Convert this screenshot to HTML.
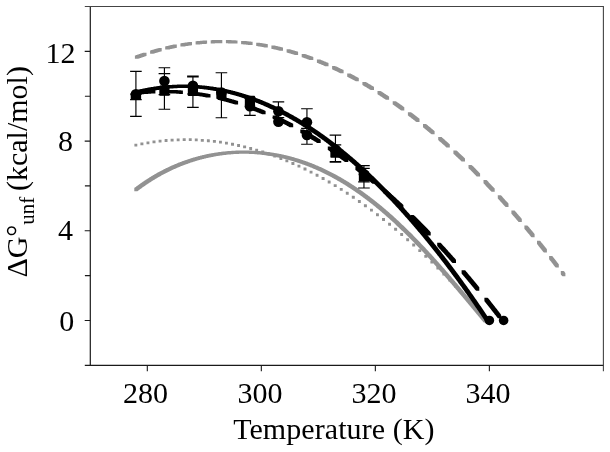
<!DOCTYPE html>
<html lang="en"><head><meta charset="utf-8"><title>ΔG unfolding vs temperature</title>
<style>html,body{margin:0;padding:0;background:#fff}body{width:610px;height:452px;overflow:hidden}</style></head>
<body>
<svg width="610" height="452" viewBox="0 0 610 452" style="display:block">
<rect width="610" height="452" fill="#fff"/>
<g stroke="#1a1a1a" stroke-width="1.2" fill="none">
<path d="M90.30,5.90 V366.00"/>
<path d="M84.80,365.40 H604.00"/>
</g>
<g stroke="#444" stroke-width="1.1" fill="none">
<path d="M84.80,6.50 H603.90"/>
<path d="M603.40,6.50 V371.20"/>
</g>
<path d="M84.70,51.40 H90.30 M84.70,141.08 H90.30 M84.70,230.76 H90.30 M84.70,320.44 H90.30 M84.90,96.24 H90.30 M84.90,185.92 H90.30 M84.90,275.60 H90.30 M147.31,365.40 V371.20 M261.33,365.40 V371.20 M375.35,365.40 V371.20 M489.37,365.40 V371.20" stroke="#1a1a1a" stroke-width="1.1" fill="none"/>
<path d="M134.3,188.0 134.8,187.6 135.3,187.2 135.8,186.9 136.3,186.5 136.8,186.1 137.3,185.8 137.8,185.4 138.3,185.0 138.8,184.7 139.3,184.3 139.8,183.9 140.3,183.6 140.8,183.2 141.3,182.9 141.8,182.5 142.3,182.2 142.8,181.8 143.3,181.5 143.8,181.2 144.3,180.8 144.8,180.5 145.3,180.2 145.8,179.8 146.3,179.5 146.8,179.2 147.3,178.9 147.8,178.5 148.3,178.2 148.8,177.9 149.3,177.6 149.8,177.3 150.3,177.0 150.8,176.7 151.3,176.3 151.8,176.0 152.3,175.7 152.8,175.4 153.3,175.1 153.8,174.9 154.3,174.6 154.8,174.3 155.3,174.0 155.8,173.7 156.3,173.4 156.8,173.1 157.3,172.8 157.8,172.6 158.3,172.3 158.8,172.0 159.3,171.7 159.8,171.5 160.3,171.2 160.8,170.9 161.3,170.7 161.8,170.4 162.3,170.2 162.8,169.9 163.3,169.6 163.8,169.4 164.3,169.1 164.8,168.9 165.3,168.6 165.8,168.4 166.3,168.1 166.8,167.9 167.3,167.7 167.8,167.4 168.3,167.2 168.8,167.0 169.3,166.7 169.8,166.5 170.3,166.3 170.8,166.0 171.3,165.8 171.8,165.6 172.3,165.4 172.8,165.1 173.3,164.9 173.8,164.7 174.3,164.5 174.8,164.3 175.3,164.1 175.8,163.9 176.3,163.7 176.8,163.5 177.3,163.2 177.8,163.0 178.3,162.8 178.8,162.6 179.3,162.5 179.8,162.3 180.3,162.1 180.8,161.9 181.3,161.7 181.8,161.5 182.3,161.3 182.8,161.1 183.3,160.9 183.8,160.8 184.3,160.6 184.8,160.4 185.3,160.2 185.8,160.1 186.3,159.9 186.8,159.7 187.3,159.5 187.8,159.4 188.3,159.2 188.8,159.0 189.3,158.9 189.8,158.7 190.3,158.6 190.8,158.4 191.3,158.3 191.8,158.1 192.3,157.9 192.8,157.8 193.2,157.6 193.7,157.5 194.2,157.4 194.7,157.2 195.2,157.1 195.7,156.9 196.2,156.8 196.7,156.7 197.2,156.5 197.7,156.4 198.2,156.2 198.7,156.1 199.2,156.0 199.7,155.9 200.2,155.7 200.7,155.6 201.2,155.5 201.7,155.4 202.2,155.2 202.7,155.1 203.2,155.0 203.7,154.9 204.2,154.8 204.7,154.7 205.2,154.6 205.7,154.4 206.2,154.3 206.7,154.2 207.2,154.1 207.7,154.0 208.2,153.9 208.7,153.8 209.2,153.7 209.7,153.6 210.2,153.5 210.7,153.4 211.2,153.3 211.7,153.3 212.2,153.2 212.7,153.1 213.2,153.0 213.7,152.9 214.2,152.8 214.7,152.7 215.2,152.7 215.7,152.6 216.2,152.5 216.7,152.4 217.2,152.4 217.7,152.3 218.2,152.2 218.7,152.1 219.2,152.1 219.7,152.0 220.2,151.9 220.7,151.9 221.2,151.8 221.7,151.8 222.2,151.7 222.7,151.6 223.2,151.6 223.7,151.5 224.2,151.5 224.7,151.4 225.2,151.4 225.7,151.3 226.2,151.3 226.7,151.2 227.2,151.2 227.7,151.1 228.2,151.1 228.7,151.1 229.2,151.0 229.7,151.0 230.2,150.9 230.7,150.9 231.2,150.9 231.7,150.8 232.2,150.8 232.7,150.8 233.2,150.8 233.7,150.7 234.2,150.7 234.7,150.7 235.2,150.7 235.7,150.6 236.2,150.6 236.7,150.6 237.2,150.6 237.7,150.6 238.2,150.6 238.7,150.6 239.2,150.6 239.7,150.5 240.2,150.5 240.7,150.5 241.2,150.5 241.7,150.5 242.2,150.5 242.7,150.5 243.2,150.5 243.7,150.5 244.2,150.5 244.7,150.5 245.2,150.5 245.7,150.5 246.2,150.5 246.7,150.5 247.2,150.5 247.7,150.5 248.2,150.5 248.7,150.6 249.2,150.6 249.7,150.6 250.2,150.6 250.7,150.6 251.2,150.6 251.7,150.6 252.2,150.7 252.7,150.7 253.2,150.7 253.7,150.7 254.2,150.7 254.7,150.8 255.2,150.8 255.7,150.8 256.2,150.9 256.7,150.9 257.2,150.9 257.7,151.0 258.2,151.0 258.7,151.0 259.2,151.1 259.7,151.1 260.2,151.1 260.7,151.2 261.2,151.2 261.7,151.3 262.2,151.3 262.7,151.4 263.2,151.4 263.7,151.5 264.2,151.5 264.7,151.6 265.2,151.6 265.7,151.7 266.2,151.8 266.7,151.8 267.2,151.9 267.7,151.9 268.2,152.0 268.7,152.1 269.2,152.1 269.7,152.2 270.2,152.3 270.7,152.4 271.2,152.4 271.7,152.5 272.2,152.6 272.7,152.7 273.2,152.7 273.7,152.8 274.2,152.9 274.7,153.0 275.2,153.1 275.7,153.2 276.2,153.3 276.7,153.3 277.2,153.4 277.7,153.5 278.2,153.6 278.7,153.7 279.2,153.8 279.7,153.9 280.2,154.0 280.7,154.1 281.2,154.2 281.7,154.3 282.2,154.4 282.7,154.5 283.2,154.6 283.7,154.8 284.2,154.9 284.7,155.0 285.2,155.1 285.7,155.2 286.2,155.3 286.7,155.5 287.2,155.6 287.7,155.7 288.2,155.8 288.7,155.9 289.2,156.1 289.7,156.2 290.2,156.3 290.7,156.5 291.2,156.6 291.7,156.7 292.2,156.9 292.7,157.0 293.2,157.1 293.7,157.3 294.2,157.4 294.6,157.6 295.1,157.7 295.6,157.9 296.1,158.0 296.6,158.2 297.1,158.3 297.6,158.5 298.1,158.6 298.6,158.8 299.1,158.9 299.6,159.1 300.1,159.2 300.6,159.4 301.1,159.6 301.6,159.7 302.1,159.9 302.6,160.1 303.1,160.2 303.6,160.4 304.1,160.6 304.6,160.8 305.1,160.9 305.6,161.1 306.1,161.3 306.6,161.5 307.1,161.6 307.6,161.8 308.1,162.0 308.6,162.2 309.1,162.4 309.6,162.6 310.1,162.8 310.6,163.0 311.1,163.1 311.6,163.3 312.1,163.5 312.6,163.7 313.1,163.9 313.6,164.1 314.1,164.3 314.6,164.5 315.1,164.8 315.6,165.0 316.1,165.2 316.6,165.4 317.1,165.6 317.6,165.8 318.1,166.0 318.6,166.2 319.1,166.5 319.6,166.7 320.1,166.9 320.6,167.1 321.1,167.3 321.6,167.6 322.1,167.8 322.6,168.0 323.1,168.3 323.6,168.5 324.1,168.7 324.6,169.0 325.1,169.2 325.6,169.4 326.1,169.7 326.6,169.9 327.1,170.2 327.6,170.4 328.1,170.7 328.6,170.9 329.1,171.2 329.6,171.4 330.1,171.7 330.6,171.9 331.1,172.2 331.6,172.4 332.1,172.7 332.6,172.9 333.1,173.2 333.6,173.5 334.1,173.7 334.6,174.0 335.1,174.3 335.6,174.5 336.1,174.8 336.6,175.1 337.1,175.4 337.6,175.6 338.1,175.9 338.6,176.2 339.1,176.5 339.6,176.8 340.1,177.0 340.6,177.3 341.1,177.6 341.6,177.9 342.1,178.2 342.6,178.5 343.1,178.8 343.6,179.1 344.1,179.4 344.6,179.7 345.1,180.0 345.6,180.3 346.1,180.6 346.6,180.9 347.1,181.2 347.6,181.5 348.1,181.8 348.6,182.1 349.1,182.4 349.6,182.8 350.1,183.1 350.6,183.4 351.1,183.7 351.6,184.0 352.1,184.4 352.6,184.7 353.1,185.0 353.6,185.3 354.1,185.7 354.6,186.0 355.1,186.3 355.6,186.7 356.1,187.0 356.6,187.3 357.1,187.7 357.6,188.0 358.1,188.3 358.6,188.7 359.1,189.0 359.6,189.4 360.1,189.7 360.6,190.1 361.1,190.4 361.6,190.8 362.1,191.1 362.6,191.5 363.1,191.8 363.6,192.2 364.1,192.6 364.6,192.9 365.1,193.3 365.6,193.7 366.1,194.0 366.6,194.4 367.1,194.8 367.6,195.1 368.1,195.5 368.6,195.9 369.1,196.2 369.6,196.6 370.1,197.0 370.6,197.4 371.1,197.8 371.6,198.2 372.1,198.5 372.6,198.9 373.1,199.3 373.6,199.7 374.1,200.1 374.6,200.5 375.1,200.9 375.6,201.3 376.1,201.7 376.6,202.1 377.1,202.5 377.6,202.9 378.1,203.3 378.6,203.7 379.1,204.1 379.6,204.5 380.1,204.9 380.6,205.3 381.1,205.7 381.6,206.1 382.1,206.6 382.6,207.0 383.1,207.4 383.6,207.8 384.1,208.2 384.6,208.7 385.1,209.1 385.6,209.5 386.1,209.9 386.6,210.4 387.1,210.8 387.6,211.2 388.1,211.7 388.6,212.1 389.1,212.5 389.6,213.0 390.1,213.4 390.6,213.9 391.1,214.3 391.6,214.7 392.1,215.2 392.6,215.6 393.1,216.1 393.6,216.5 394.1,217.0 394.6,217.4 395.1,217.9 395.6,218.3 396.0,218.8 396.5,219.3 397.0,219.7 397.5,220.2 398.0,220.6 398.5,221.1 399.0,221.6 399.5,222.0 400.0,222.5 400.5,223.0 401.0,223.4 401.5,223.9 402.0,224.4 402.5,224.9 403.0,225.3 403.5,225.8 404.0,226.3 404.5,226.8 405.0,227.3 405.5,227.7 406.0,228.2 406.5,228.7 407.0,229.2 407.5,229.7 408.0,230.2 408.5,230.7 409.0,231.2 409.5,231.7 410.0,232.2 410.5,232.6 411.0,233.1 411.5,233.6 412.0,234.1 412.5,234.6 413.0,235.1 413.5,235.7 414.0,236.2 414.5,236.7 415.0,237.2 415.5,237.7 416.0,238.2 416.5,238.7 417.0,239.2 417.5,239.7 418.0,240.2 418.5,240.8 419.0,241.3 419.5,241.8 420.0,242.3 420.5,242.8 421.0,243.4 421.5,243.9 422.0,244.4 422.5,244.9 423.0,245.5 423.5,246.0 424.0,246.5 424.5,247.1 425.0,247.6 425.5,248.1 426.0,248.7 426.5,249.2 427.0,249.7 427.5,250.3 428.0,250.8 428.5,251.3 429.0,251.9 429.5,252.4 430.0,253.0 430.5,253.5 431.0,254.1 431.5,254.6 432.0,255.1 432.5,255.7 433.0,256.2 433.5,256.8 434.0,257.3 434.5,257.9 435.0,258.4 435.5,259.0 436.0,259.6 436.5,260.1 437.0,260.7 437.5,261.2 438.0,261.8 438.5,262.3 439.0,262.9 439.5,263.5 440.0,264.0 440.5,264.6 441.0,265.2 441.5,265.7 442.0,266.3 442.5,266.9 443.0,267.4 443.5,268.0 444.0,268.6 444.5,269.1 445.0,269.7 445.5,270.3 446.0,270.8 446.5,271.4 447.0,272.0 447.5,272.6 448.0,273.1 448.5,273.7 449.0,274.3 449.5,274.9 450.0,275.5 450.5,276.0 451.0,276.6 451.5,277.2 452.0,277.8 452.5,278.4 453.0,278.9 453.5,279.5 454.0,280.1 454.5,280.7 455.0,281.3 455.5,281.9 456.0,282.4 456.5,283.0 457.0,283.6 457.5,284.2 458.0,284.8 458.5,285.4 459.0,286.0 459.5,286.6 460.0,287.2 460.5,287.7 461.0,288.3 461.5,288.9 462.0,289.5 462.5,290.1 463.0,290.7 463.5,291.3 464.0,291.9 464.5,292.5 465.0,293.1 465.5,293.7 466.0,294.3 466.5,294.9 467.0,295.5 467.5,296.1 468.0,296.7 468.5,297.3 469.0,297.9 469.5,298.5 470.0,299.1 470.5,299.7 471.0,300.3 471.5,300.9 472.0,301.5 472.5,302.0 473.0,302.6 473.5,303.2 474.0,303.8 474.5,304.4 475.0,305.0 475.5,305.6 476.0,306.2 476.5,306.8 477.0,307.4 477.5,308.0 478.0,308.6 478.5,309.2 479.0,309.8 479.5,310.5 480.0,311.1 480.5,311.7 481.0,312.3 481.5,312.9 482.0,313.5 482.5,314.1 483.0,314.7 483.5,315.3 484.0,315.9 484.5,316.4 485.0,317.0 485.5,317.6 486.0,318.2 486.5,318.8 487.0,319.4 487.0,322.6 486.5,322.6 486.0,322.6 485.5,322.6 485.0,322.6 484.5,322.6 484.0,322.6 483.5,322.3 483.0,321.7 482.5,321.1 482.0,320.5 481.5,319.9 481.0,319.3 480.5,318.7 480.0,318.1 479.5,317.5 479.0,316.9 478.5,316.3 478.0,315.7 477.5,315.1 477.0,314.5 476.5,313.9 476.0,313.3 475.5,312.7 475.0,312.1 474.5,311.5 474.0,310.9 473.5,310.3 473.0,309.7 472.5,309.1 472.0,308.5 471.5,307.9 471.0,307.3 470.5,306.7 470.0,306.1 469.5,305.5 469.0,304.9 468.5,304.3 468.0,303.7 467.5,303.1 467.0,302.5 466.5,301.9 466.0,301.3 465.5,300.7 465.0,300.1 464.5,299.5 464.0,298.9 463.5,298.3 463.0,297.7 462.5,297.1 462.0,296.5 461.5,295.9 461.0,295.3 460.5,294.7 460.0,294.2 459.5,293.6 459.0,293.0 458.5,292.4 458.0,291.8 457.5,291.2 457.0,290.6 456.5,290.0 456.0,289.4 455.5,288.8 455.0,288.2 454.5,287.6 454.0,287.1 453.5,286.5 453.0,285.9 452.5,285.3 452.0,284.7 451.5,284.1 451.0,283.5 450.5,283.0 450.0,282.4 449.5,281.8 449.0,281.2 448.5,280.6 448.0,280.0 447.5,279.5 447.0,278.9 446.5,278.3 446.0,277.7 445.5,277.2 445.0,276.6 444.5,276.0 444.0,275.4 443.5,274.8 443.0,274.3 442.5,273.7 442.0,273.1 441.5,272.6 441.0,272.0 440.5,271.4 440.0,270.9 439.5,270.3 439.0,269.7 438.5,269.1 438.0,268.6 437.5,268.0 437.0,267.5 436.5,266.9 436.0,266.3 435.5,265.8 435.0,265.2 434.5,264.7 434.0,264.1 433.5,263.5 433.0,263.0 432.5,262.4 432.0,261.9 431.5,261.3 431.0,260.8 430.5,260.2 430.0,259.7 429.5,259.1 429.0,258.6 428.5,258.0 428.0,257.5 427.5,256.9 427.0,256.4 426.5,255.8 426.0,255.3 425.5,254.8 425.0,254.2 424.5,253.7 424.0,253.1 423.5,252.6 423.0,252.1 422.5,251.5 422.0,251.0 421.5,250.5 421.0,249.9 420.5,249.4 420.0,248.9 419.5,248.4 419.0,247.8 418.5,247.3 418.0,246.8 417.5,246.3 417.0,245.7 416.5,245.2 416.0,244.7 415.5,244.2 415.0,243.7 414.5,243.1 414.0,242.6 413.5,242.1 413.0,241.6 412.5,241.1 412.0,240.6 411.5,240.1 411.0,239.6 410.5,239.1 410.0,238.6 409.5,238.1 409.0,237.5 408.5,237.0 408.0,236.5 407.5,236.0 407.0,235.6 406.5,235.1 406.0,234.6 405.5,234.1 405.0,233.6 404.5,233.1 404.0,232.6 403.5,232.1 403.0,231.6 402.5,231.1 402.0,230.7 401.5,230.2 401.0,229.7 400.5,229.2 400.0,228.7 399.5,228.3 399.0,227.8 398.5,227.3 398.0,226.8 397.5,226.4 397.0,225.9 396.5,225.4 396.0,225.0 395.6,224.5 395.1,224.0 394.6,223.6 394.1,223.1 393.6,222.6 393.1,222.2 392.6,221.7 392.1,221.3 391.6,220.8 391.1,220.4 390.6,219.9 390.1,219.5 389.6,219.0 389.1,218.6 388.6,218.1 388.1,217.7 387.6,217.2 387.1,216.8 386.6,216.4 386.1,215.9 385.6,215.5 385.1,215.0 384.6,214.6 384.1,214.2 383.6,213.7 383.1,213.3 382.6,212.9 382.1,212.5 381.6,212.0 381.1,211.6 380.6,211.2 380.1,210.8 379.6,210.3 379.1,209.9 378.6,209.5 378.1,209.1 377.6,208.7 377.1,208.3 376.6,207.9 376.1,207.5 375.6,207.0 375.1,206.6 374.6,206.2 374.1,205.8 373.6,205.4 373.1,205.0 372.6,204.6 372.1,204.2 371.6,203.8 371.1,203.5 370.6,203.1 370.1,202.7 369.6,202.3 369.1,201.9 368.6,201.5 368.1,201.1 367.6,200.7 367.1,200.4 366.6,200.0 366.1,199.6 365.6,199.2 365.1,198.9 364.6,198.5 364.1,198.1 363.6,197.7 363.1,197.4 362.6,197.0 362.1,196.6 361.6,196.3 361.1,195.9 360.6,195.5 360.1,195.2 359.6,194.8 359.1,194.5 358.6,194.1 358.1,193.8 357.6,193.4 357.1,193.1 356.6,192.7 356.1,192.4 355.6,192.0 355.1,191.7 354.6,191.3 354.1,191.0 353.6,190.7 353.1,190.3 352.6,190.0 352.1,189.7 351.6,189.3 351.1,189.0 350.6,188.7 350.1,188.3 349.6,188.0 349.1,187.7 348.6,187.4 348.1,187.0 347.6,186.7 347.1,186.4 346.6,186.1 346.1,185.8 345.6,185.5 345.1,185.1 344.6,184.8 344.1,184.5 343.6,184.2 343.1,183.9 342.6,183.6 342.1,183.3 341.6,183.0 341.1,182.7 340.6,182.4 340.1,182.1 339.6,181.8 339.1,181.5 338.6,181.2 338.1,180.9 337.6,180.7 337.1,180.4 336.6,180.1 336.1,179.8 335.6,179.5 335.1,179.2 334.6,179.0 334.1,178.7 333.6,178.4 333.1,178.1 332.6,177.9 332.1,177.6 331.6,177.3 331.1,177.0 330.6,176.8 330.1,176.5 329.6,176.3 329.1,176.0 328.6,175.7 328.1,175.5 327.6,175.2 327.1,175.0 326.6,174.7 326.1,174.5 325.6,174.2 325.1,174.0 324.6,173.7 324.1,173.5 323.6,173.2 323.1,173.0 322.6,172.7 322.1,172.5 321.6,172.3 321.1,172.0 320.6,171.8 320.1,171.6 319.6,171.3 319.1,171.1 318.6,170.9 318.1,170.6 317.6,170.4 317.1,170.2 316.6,170.0 316.1,169.7 315.6,169.5 315.1,169.3 314.6,169.1 314.1,168.9 313.6,168.7 313.1,168.5 312.6,168.2 312.1,168.0 311.6,167.8 311.1,167.6 310.6,167.4 310.1,167.2 309.6,167.0 309.1,166.8 308.6,166.6 308.1,166.4 307.6,166.2 307.1,166.0 306.6,165.8 306.1,165.7 305.6,165.5 305.1,165.3 304.6,165.1 304.1,164.9 303.6,164.7 303.1,164.6 302.6,164.4 302.1,164.2 301.6,164.0 301.1,163.8 300.6,163.7 300.1,163.5 299.6,163.3 299.1,163.2 298.6,163.0 298.1,162.8 297.6,162.7 297.1,162.5 296.6,162.3 296.1,162.2 295.6,162.0 295.1,161.9 294.6,161.7 294.2,161.6 293.7,161.4 293.2,161.3 292.7,161.1 292.2,161.0 291.7,160.8 291.2,160.7 290.7,160.5 290.2,160.4 289.7,160.3 289.2,160.1 288.7,160.0 288.2,159.8 287.7,159.7 287.2,159.6 286.7,159.5 286.2,159.3 285.7,159.2 285.2,159.1 284.7,158.9 284.2,158.8 283.7,158.7 283.2,158.6 282.7,158.5 282.2,158.3 281.7,158.2 281.2,158.1 280.7,158.0 280.2,157.9 279.7,157.8 279.2,157.7 278.7,157.6 278.2,157.5 277.7,157.4 277.2,157.3 276.7,157.2 276.2,157.1 275.7,157.0 275.2,156.9 274.7,156.8 274.2,156.7 273.7,156.6 273.2,156.5 272.7,156.4 272.2,156.3 271.7,156.2 271.2,156.1 270.7,156.1 270.2,156.0 269.7,155.9 269.2,155.8 268.7,155.7 268.2,155.7 267.7,155.6 267.2,155.5 266.7,155.4 266.2,155.4 265.7,155.3 265.2,155.2 264.7,155.2 264.2,155.1 263.7,155.0 263.2,155.0 262.7,154.9 262.2,154.9 261.7,154.8 261.2,154.8 260.7,154.7 260.2,154.6 259.7,154.6 259.2,154.5 258.7,154.5 258.2,154.5 257.7,154.4 257.2,154.4 256.7,154.3 256.2,154.3 255.7,154.2 255.2,154.2 254.7,154.2 254.2,154.1 253.7,154.1 253.2,154.1 252.7,154.0 252.2,154.0 251.7,154.0 251.2,154.0 250.7,153.9 250.2,153.9 249.7,153.9 249.2,153.9 248.7,153.8 248.2,153.8 247.7,153.8 247.2,153.8 246.7,153.8 246.2,153.8 245.7,153.8 245.2,153.7 244.7,153.7 244.2,153.7 243.7,153.7 243.2,153.7 242.7,153.7 242.2,153.8 241.7,153.8 241.2,153.8 240.7,153.8 240.2,153.8 239.7,153.8 239.2,153.8 238.7,153.9 238.2,153.9 237.7,153.9 237.2,153.9 236.7,153.9 236.2,154.0 235.7,154.0 235.2,154.0 234.7,154.1 234.2,154.1 233.7,154.1 233.2,154.2 232.7,154.2 232.2,154.2 231.7,154.3 231.2,154.3 230.7,154.4 230.2,154.4 229.7,154.4 229.2,154.5 228.7,154.5 228.2,154.6 227.7,154.6 227.2,154.7 226.7,154.7 226.2,154.8 225.7,154.9 225.2,154.9 224.7,155.0 224.2,155.0 223.7,155.1 223.2,155.2 222.7,155.2 222.2,155.3 221.7,155.4 221.2,155.4 220.7,155.5 220.2,155.6 219.7,155.7 219.2,155.7 218.7,155.8 218.2,155.9 217.7,156.0 217.2,156.1 216.7,156.1 216.2,156.2 215.7,156.3 215.2,156.4 214.7,156.5 214.2,156.6 213.7,156.7 213.2,156.8 212.7,156.9 212.2,157.0 211.7,157.1 211.2,157.2 210.7,157.3 210.2,157.4 209.7,157.5 209.2,157.6 208.7,157.7 208.2,157.8 207.7,157.9 207.2,158.0 206.7,158.1 206.2,158.3 205.7,158.4 205.2,158.5 204.7,158.6 204.2,158.7 203.7,158.9 203.2,159.0 202.7,159.1 202.2,159.2 201.7,159.4 201.2,159.5 200.7,159.6 200.2,159.8 199.7,159.9 199.2,160.0 198.7,160.2 198.2,160.3 197.7,160.5 197.2,160.6 196.7,160.8 196.2,160.9 195.7,161.1 195.2,161.2 194.7,161.4 194.2,161.5 193.7,161.7 193.2,161.8 192.8,162.0 192.3,162.2 191.8,162.3 191.3,162.5 190.8,162.6 190.3,162.8 189.8,163.0 189.3,163.2 188.8,163.3 188.3,163.5 187.8,163.7 187.3,163.9 186.8,164.0 186.3,164.2 185.8,164.4 185.3,164.6 184.8,164.8 184.3,165.0 183.8,165.2 183.3,165.3 182.8,165.5 182.3,165.7 181.8,165.9 181.3,166.1 180.8,166.3 180.3,166.5 179.8,166.7 179.3,166.9 178.8,167.1 178.3,167.4 177.8,167.6 177.3,167.8 176.8,168.0 176.3,168.2 175.8,168.4 175.3,168.7 174.8,168.9 174.3,169.1 173.8,169.3 173.3,169.6 172.8,169.8 172.3,170.0 171.8,170.3 171.3,170.5 170.8,170.7 170.3,171.0 169.8,171.2 169.3,171.4 168.8,171.7 168.3,171.9 167.8,172.2 167.3,172.4 166.8,172.7 166.3,172.9 165.8,173.2 165.3,173.5 164.8,173.7 164.3,174.0 163.8,174.3 163.3,174.5 162.8,174.8 162.3,175.1 161.8,175.3 161.3,175.6 160.8,175.9 160.3,176.2 159.8,176.4 159.3,176.7 158.8,177.0 158.3,177.3 157.8,177.6 157.3,177.9 156.8,178.2 156.3,178.5 155.8,178.8 155.3,179.1 154.8,179.4 154.3,179.7 153.8,180.0 153.3,180.3 152.8,180.6 152.3,180.9 151.8,181.2 151.3,181.5 150.8,181.9 150.3,182.2 149.8,182.5 149.3,182.8 148.8,183.2 148.3,183.5 147.8,183.8 147.3,184.2 146.8,184.5 146.3,184.8 145.8,185.2 145.3,185.5 144.8,185.9 144.3,186.2 143.8,186.6 143.3,186.9 142.8,187.3 142.3,187.6 141.8,188.0 141.3,188.4 140.8,188.7 140.3,189.1 139.8,189.5 139.3,189.8 138.8,190.2 138.3,190.6 137.8,191.0 137.3,191.2 136.8,191.2 136.3,191.2 135.8,191.2 135.3,191.2 134.8,191.2 134.3,191.2Z" fill="#929292"/>
<path d="M134.4,143.7 134.9,143.7 135.4,143.7 135.9,143.7 136.4,143.7 136.9,143.7 137.3,143.7 137.3,146.5 136.9,146.5 136.4,146.5 135.9,146.5 135.4,146.5 134.9,146.5 134.4,146.5Z M140.4,142.5 140.9,142.5 141.4,142.5 141.9,142.5 142.4,142.5 142.9,142.5 143.4,142.5 143.4,145.3 142.9,145.3 142.4,145.3 141.9,145.3 141.4,145.3 140.9,145.3 140.4,145.3Z M146.5,141.4 147.0,141.4 147.5,141.4 148.0,141.4 148.4,141.4 148.9,141.4 149.4,141.4 149.4,144.2 148.9,144.2 148.4,144.2 148.0,144.2 147.5,144.2 147.0,144.2 146.5,144.2Z M152.5,140.5 153.0,140.5 153.5,140.5 154.0,140.5 154.5,140.5 155.0,140.5 155.5,140.5 155.5,143.3 155.0,143.3 154.5,143.3 154.0,143.3 153.5,143.3 153.0,143.3 152.5,143.3Z M158.6,139.8 159.1,139.7 159.5,139.7 160.0,139.7 160.5,139.7 161.0,139.7 161.5,139.7 161.5,142.5 161.0,142.6 160.5,142.6 160.0,142.6 159.5,142.6 159.1,142.6 158.6,142.6Z M164.6,139.2 165.1,139.1 165.6,139.1 166.1,139.1 166.6,139.1 167.1,139.1 167.5,139.1 167.5,141.9 167.1,142.0 166.6,142.0 166.1,142.0 165.6,142.0 165.1,142.0 164.6,142.0Z M170.6,138.7 171.1,138.7 171.6,138.7 172.1,138.7 172.6,138.7 173.1,138.7 173.6,138.7 173.6,141.5 173.1,141.5 172.6,141.5 172.1,141.5 171.6,141.5 171.1,141.5 170.6,141.5Z M176.7,138.4 177.2,138.4 177.7,138.4 178.2,138.4 178.6,138.4 179.1,138.4 179.6,138.4 179.6,141.2 179.1,141.2 178.6,141.2 178.2,141.2 177.7,141.2 177.2,141.2 176.7,141.2Z M182.7,138.3 183.2,138.3 183.7,138.3 184.2,138.3 184.7,138.3 185.2,138.3 185.7,138.3 185.7,141.1 185.2,141.1 184.7,141.1 184.2,141.1 183.7,141.1 183.2,141.1 182.7,141.1Z M188.8,138.3 189.3,138.3 189.7,138.3 190.2,138.3 190.7,138.3 191.2,138.3 191.7,138.3 191.7,141.1 191.2,141.1 190.7,141.1 190.2,141.1 189.7,141.1 189.3,141.1 188.8,141.1Z M194.8,138.5 195.3,138.5 195.8,138.5 196.3,138.5 196.8,138.5 197.3,138.5 197.7,138.5 197.7,141.3 197.3,141.3 196.8,141.3 196.3,141.3 195.8,141.3 195.3,141.3 194.8,141.3Z M200.8,138.9 201.3,138.9 201.8,138.9 202.3,138.9 202.8,138.9 203.3,138.9 203.8,138.9 203.8,141.7 203.3,141.7 202.8,141.7 202.3,141.7 201.8,141.7 201.3,141.7 200.8,141.7Z M206.9,139.3 207.4,139.3 207.9,139.3 208.4,139.3 208.8,139.3 209.3,139.3 209.8,139.4 209.8,142.2 209.3,142.2 208.8,142.2 208.4,142.2 207.9,142.2 207.4,142.2 206.9,142.1Z M212.9,140.0 213.4,140.0 213.9,140.0 214.4,140.0 214.9,140.0 215.4,140.0 215.9,140.0 215.9,142.8 215.4,142.8 214.9,142.8 214.4,142.8 213.9,142.8 213.4,142.8 212.9,142.8Z M219.0,140.8 219.5,140.8 219.9,140.8 220.4,140.8 220.9,140.8 221.4,140.8 221.9,140.8 221.9,143.6 221.4,143.6 220.9,143.6 220.4,143.6 219.9,143.6 219.5,143.6 219.0,143.6Z M225.0,141.7 225.5,141.7 226.0,141.7 226.5,141.7 227.0,141.7 227.5,141.7 227.9,141.8 227.9,144.6 227.5,144.6 227.0,144.6 226.5,144.6 226.0,144.6 225.5,144.6 225.0,144.5Z M231.0,142.8 231.5,142.8 232.0,142.8 232.5,142.8 233.0,142.8 233.5,142.8 234.0,142.9 234.0,145.7 233.5,145.7 233.0,145.7 232.5,145.7 232.0,145.7 231.5,145.7 231.0,145.6Z M237.1,144.1 237.6,144.1 238.1,144.1 238.6,144.1 239.0,144.1 239.5,144.1 240.0,144.1 240.0,146.9 239.5,146.9 239.0,146.9 238.6,146.9 238.1,146.9 237.6,146.9 237.1,146.9Z M243.1,145.5 243.6,145.5 244.1,145.5 244.6,145.5 245.1,145.5 245.6,145.5 246.1,145.5 246.1,148.3 245.6,148.3 245.1,148.3 244.6,148.3 244.1,148.3 243.6,148.3 243.1,148.3Z M249.2,147.0 249.7,147.0 250.1,147.0 250.6,147.0 251.1,147.0 251.6,147.0 252.1,147.1 252.1,149.9 251.6,149.9 251.1,149.9 250.6,149.9 250.1,149.9 249.7,149.9 249.2,149.8Z M255.2,148.7 255.7,148.7 256.2,148.7 256.7,148.7 257.2,148.7 257.7,148.7 258.1,148.8 258.1,151.6 257.7,151.6 257.2,151.6 256.7,151.6 256.2,151.6 255.7,151.6 255.2,151.5Z M261.2,150.6 261.7,150.6 262.2,150.6 262.7,150.6 263.2,150.6 263.7,150.6 264.2,150.6 264.2,153.4 263.7,153.4 263.2,153.4 262.7,153.4 262.2,153.4 261.7,153.4 261.2,153.4Z M267.3,152.6 267.8,152.6 268.3,152.6 268.8,152.6 269.2,152.6 269.7,152.6 270.2,152.6 270.2,155.4 269.7,155.4 269.2,155.4 268.8,155.4 268.3,155.4 267.8,155.4 267.3,155.4Z M273.3,154.7 273.8,154.7 274.3,154.7 274.8,154.7 275.3,154.7 275.8,154.7 276.3,154.8 276.3,157.6 275.8,157.6 275.3,157.6 274.8,157.6 274.3,157.6 273.8,157.6 273.3,157.5Z M279.4,157.0 279.9,157.0 280.3,157.0 280.8,157.0 281.3,157.0 281.8,157.0 282.3,157.1 282.3,159.9 281.8,159.9 281.3,159.9 280.8,159.9 280.3,159.9 279.9,159.9 279.4,159.8Z M285.4,159.4 285.9,159.4 286.4,159.4 286.9,159.4 287.4,159.4 287.9,159.4 288.3,159.5 288.3,162.3 287.9,162.3 287.4,162.3 286.9,162.3 286.4,162.3 285.9,162.3 285.4,162.2Z M291.4,162.0 291.9,162.0 292.4,162.0 292.9,162.0 293.4,162.0 293.9,162.0 294.4,162.1 294.4,164.9 293.9,164.9 293.4,164.9 292.9,164.9 292.4,164.9 291.9,164.9 291.4,164.8Z M297.5,164.8 298.0,164.8 298.5,164.8 299.0,164.8 299.4,164.8 299.9,164.8 300.4,164.8 300.4,167.6 299.9,167.6 299.4,167.6 299.0,167.6 298.5,167.6 298.0,167.6 297.5,167.6Z M303.5,167.6 304.0,167.6 304.5,167.6 305.0,167.6 305.5,167.6 306.0,167.6 306.5,167.7 306.5,170.5 306.0,170.5 305.5,170.5 305.0,170.5 304.5,170.5 304.0,170.5 303.5,170.4Z M309.6,170.7 310.1,170.7 310.5,170.7 311.0,170.7 311.5,170.7 312.0,170.7 312.5,170.7 312.5,173.5 312.0,173.5 311.5,173.5 311.0,173.5 310.5,173.5 310.1,173.5 309.6,173.5Z M315.6,173.8 316.1,173.8 316.6,173.8 317.1,173.8 317.6,173.8 318.1,173.8 318.5,173.9 318.5,176.7 318.1,176.7 317.6,176.7 317.1,176.7 316.6,176.7 316.1,176.7 315.6,176.6Z M321.6,177.1 322.1,177.1 322.6,177.1 323.1,177.1 323.6,177.1 324.1,177.1 324.6,177.2 324.6,180.0 324.1,180.0 323.6,180.0 323.1,180.0 322.6,180.0 322.1,180.0 321.6,179.9Z M327.7,180.6 328.2,180.6 328.7,180.6 329.2,180.6 329.6,180.6 330.1,180.6 330.6,180.7 330.6,183.5 330.1,183.5 329.6,183.5 329.2,183.5 328.7,183.5 328.2,183.5 327.7,183.4Z M333.7,184.2 334.2,184.2 334.7,184.2 335.2,184.2 335.7,184.2 336.2,184.2 336.7,184.3 336.7,187.1 336.2,187.1 335.7,187.1 335.2,187.1 334.7,187.1 334.2,187.1 333.7,187.0Z M339.8,187.9 340.3,187.9 340.7,187.9 341.2,187.9 341.7,187.9 342.2,187.9 342.7,188.0 342.7,190.8 342.2,190.8 341.7,190.8 341.2,190.8 340.7,190.8 340.3,190.8 339.8,190.7Z M345.8,191.8 346.3,191.8 346.8,191.8 347.3,191.8 347.8,191.8 348.3,191.8 348.7,191.9 348.7,194.7 348.3,194.7 347.8,194.7 347.3,194.7 346.8,194.7 346.3,194.7 345.8,194.6Z M351.8,195.8 352.3,195.8 352.8,195.8 353.3,195.8 353.8,195.8 354.3,195.8 354.8,195.9 354.8,198.7 354.3,198.7 353.8,198.7 353.3,198.7 352.8,198.7 352.3,198.7 351.8,198.6Z M357.9,200.0 358.4,200.0 358.9,200.0 359.4,200.0 359.8,200.0 360.3,200.0 360.8,200.1 360.8,202.9 360.3,202.9 359.8,202.9 359.4,202.9 358.9,202.9 358.4,202.9 357.9,202.8Z M363.9,204.3 364.4,204.3 364.9,204.3 365.4,204.3 365.9,204.3 366.4,204.3 366.9,204.4 366.9,207.2 366.4,207.2 365.9,207.2 365.4,207.2 364.9,207.2 364.4,207.2 363.9,207.1Z M370.0,208.7 370.5,208.7 370.9,208.7 371.4,208.7 371.9,208.7 372.4,208.7 372.9,208.8 372.9,211.6 372.4,211.6 371.9,211.6 371.4,211.6 370.9,211.6 370.5,211.6 370.0,211.5Z M376.0,213.3 376.5,213.3 377.0,213.3 377.5,213.3 378.0,213.3 378.5,213.3 378.9,213.4 378.9,216.2 378.5,216.2 378.0,216.2 377.5,216.2 377.0,216.2 376.5,216.2 376.0,216.1Z M382.0,218.0 382.5,218.0 383.0,218.0 383.5,218.0 384.0,218.0 384.5,218.0 385.0,218.1 385.0,220.9 384.5,220.9 384.0,220.9 383.5,220.9 383.0,220.9 382.5,220.9 382.0,220.8Z M388.1,222.8 388.6,222.8 389.1,222.8 389.6,222.8 390.0,222.8 390.5,222.8 391.0,223.0 391.0,225.8 390.5,225.8 390.0,225.8 389.6,225.8 389.1,225.8 388.6,225.8 388.1,225.6Z M394.1,227.8 394.6,227.8 395.1,227.8 395.6,227.8 396.1,227.8 396.6,227.8 397.1,228.0 397.1,230.8 396.6,230.8 396.1,230.8 395.6,230.8 395.1,230.8 394.6,230.8 394.1,230.6Z M400.2,233.0 400.7,233.0 401.1,233.0 401.6,233.0 402.1,233.0 402.6,233.0 403.1,233.1 403.1,235.9 402.6,235.9 402.1,235.9 401.6,235.9 401.1,235.9 400.7,235.9 400.2,235.8Z M406.2,238.2 406.7,238.2 407.2,238.2 407.7,238.2 408.2,238.2 408.7,238.2 409.1,238.4 409.1,241.2 408.7,241.2 408.2,241.2 407.7,241.2 407.2,241.2 406.7,241.2 406.2,241.0Z M412.2,243.6 412.7,243.6 413.2,243.6 413.7,243.6 414.2,243.6 414.7,243.6 415.2,243.8 415.2,246.6 414.7,246.6 414.2,246.6 413.7,246.6 413.2,246.6 412.7,246.6 412.2,246.4Z M418.3,249.2 418.8,249.2 419.3,249.2 419.8,249.2 420.2,249.2 420.7,249.2 421.2,249.3 421.2,252.1 420.7,252.1 420.2,252.1 419.8,252.1 419.3,252.1 418.8,252.1 418.3,252.0Z M424.3,254.9 424.8,254.9 425.3,254.9 425.8,254.9 426.3,254.9 426.8,254.9 427.3,255.0 427.3,257.8 426.8,257.8 426.3,257.8 425.8,257.8 425.3,257.8 424.8,257.8 424.3,257.7Z M430.4,260.7 430.9,260.7 431.3,260.7 431.8,260.7 432.3,260.7 432.8,260.7 433.3,260.8 433.3,263.6 432.8,263.6 432.3,263.6 431.8,263.6 431.3,263.6 430.9,263.6 430.4,263.5Z M436.4,266.6 436.9,266.6 437.4,266.6 437.9,266.6 438.4,266.6 438.9,266.6 439.3,266.7 439.3,269.5 438.9,269.5 438.4,269.5 437.9,269.5 437.4,269.5 436.9,269.5 436.4,269.4Z M442.4,272.6 442.9,272.6 443.4,272.6 443.9,272.6 444.4,272.6 444.9,272.6 445.3,272.8 445.3,275.6 444.9,275.6 444.4,275.6 443.9,275.6 443.4,275.6 442.9,275.6 442.4,275.4Z M448.3,278.7 448.8,278.7 449.3,278.7 449.7,278.7 450.2,278.7 450.7,278.7 451.2,278.8 451.2,281.6 450.7,281.6 450.2,281.6 449.7,281.6 449.3,281.6 448.8,281.6 448.3,281.5Z M454.0,284.7 454.5,284.7 455.0,284.7 455.5,284.7 456.0,284.7 456.5,284.7 457.0,284.9 457.0,287.7 456.5,287.7 456.0,287.7 455.5,287.7 455.0,287.7 454.5,287.7 454.0,287.5Z M459.7,290.8 460.2,290.8 460.7,290.8 461.1,290.8 461.6,290.8 462.1,290.8 462.6,290.9 462.6,293.7 462.1,293.7 461.6,293.7 461.1,293.7 460.7,293.7 460.2,293.7 459.7,293.6Z M465.2,296.8 465.7,296.8 466.2,296.8 466.7,296.8 467.2,296.8 467.6,296.8 468.1,296.9 468.1,299.7 467.6,299.7 467.2,299.7 466.7,299.7 466.2,299.7 465.7,299.7 465.2,299.6Z M470.7,302.9 471.1,302.9 471.6,302.9 472.1,302.9 472.6,302.9 473.1,302.9 473.6,303.0 473.6,305.8 473.1,305.8 472.6,305.8 472.1,305.8 471.6,305.8 471.1,305.8 470.7,305.7Z M476.0,308.9 476.5,308.9 477.0,308.9 477.5,308.9 477.9,308.9 478.4,308.9 478.9,309.0 478.9,311.8 478.4,311.8 477.9,311.8 477.5,311.8 477.0,311.8 476.5,311.8 476.0,311.7Z M481.2,314.9 481.7,314.9 482.2,314.9 482.7,314.9 483.2,314.9 483.7,314.9 484.2,315.1 484.2,317.9 483.7,317.9 483.2,317.9 482.7,317.9 482.2,317.9 481.7,317.9 481.2,317.7Z" fill="#929292"/>
<path d="M134.9,55.6 135.4,55.4 135.9,55.3 136.3,55.1 136.8,54.9 137.3,54.7 137.8,54.6 138.3,54.4 138.8,54.2 139.2,54.1 139.7,53.9 140.2,53.7 140.7,53.5 141.2,53.4 141.7,53.2 142.1,53.1 142.6,52.9 143.1,52.7 143.6,52.7 144.1,52.7 144.6,52.7 145.0,52.7 145.5,52.7 146.0,52.7 146.5,52.7 146.5,55.9 146.0,56.0 145.5,56.2 145.0,56.4 144.6,56.5 144.1,56.7 143.6,56.9 143.1,57.0 142.6,57.2 142.1,57.4 141.7,57.5 141.2,57.7 140.7,57.9 140.2,58.0 139.7,58.2 139.2,58.4 138.8,58.6 138.3,58.8 137.8,58.8 137.3,58.8 136.8,58.8 136.3,58.8 135.9,58.8 135.4,58.8 134.9,58.8Z M150.1,50.5 150.6,50.4 151.0,50.2 151.5,50.1 152.0,49.9 152.5,49.8 153.0,49.7 153.5,49.5 153.9,49.4 154.4,49.2 154.9,49.1 155.4,49.0 155.9,48.8 156.4,48.7 156.8,48.6 157.3,48.4 157.8,48.3 158.3,48.2 158.8,48.1 159.2,48.1 159.7,48.1 160.2,48.1 160.7,48.1 161.2,48.1 161.7,48.1 161.7,51.3 161.2,51.5 160.7,51.6 160.2,51.7 159.7,51.8 159.2,52.0 158.8,52.1 158.3,52.3 157.8,52.4 157.3,52.5 156.8,52.7 156.4,52.8 155.9,52.9 155.4,53.1 154.9,53.2 154.4,53.4 153.9,53.5 153.5,53.7 153.0,53.7 152.5,53.7 152.0,53.7 151.5,53.7 151.0,53.7 150.6,53.7 150.1,53.7Z M165.2,46.4 165.7,46.3 166.2,46.2 166.7,46.1 167.2,46.0 167.7,45.9 168.1,45.8 168.6,45.7 169.1,45.5 169.6,45.4 170.1,45.3 170.5,45.2 171.0,45.1 171.5,45.0 172.0,44.9 172.5,44.8 173.0,44.7 173.4,44.6 173.9,44.6 174.4,44.6 174.9,44.6 175.4,44.6 175.9,44.6 176.3,44.6 176.8,44.6 176.8,47.8 176.3,47.9 175.9,48.0 175.4,48.1 174.9,48.2 174.4,48.3 173.9,48.4 173.4,48.5 173.0,48.6 172.5,48.7 172.0,48.8 171.5,48.9 171.0,49.0 170.5,49.1 170.1,49.3 169.6,49.4 169.1,49.5 168.6,49.6 168.1,49.6 167.7,49.6 167.2,49.6 166.7,49.6 166.2,49.6 165.7,49.6 165.2,49.6Z M180.4,43.4 180.9,43.3 181.4,43.2 181.8,43.1 182.3,43.0 182.8,43.0 183.3,42.9 183.8,42.8 184.3,42.7 184.7,42.7 185.2,42.6 185.7,42.5 186.2,42.4 186.7,42.4 187.2,42.3 187.6,42.2 188.1,42.2 188.6,42.1 189.1,42.1 189.6,42.1 190.1,42.1 190.5,42.1 191.0,42.1 191.5,42.1 192.0,42.1 192.0,45.3 191.5,45.3 191.0,45.4 190.5,45.5 190.1,45.5 189.6,45.6 189.1,45.7 188.6,45.8 188.1,45.8 187.6,45.9 187.2,46.0 186.7,46.1 186.2,46.1 185.7,46.2 185.2,46.3 184.7,46.4 184.3,46.4 183.8,46.5 183.3,46.6 182.8,46.6 182.3,46.6 181.8,46.6 181.4,46.6 180.9,46.6 180.4,46.6Z M195.6,41.3 196.0,41.2 196.5,41.2 197.0,41.1 197.5,41.1 198.0,41.0 198.5,41.0 198.9,40.9 199.4,40.9 199.9,40.9 200.4,40.8 200.9,40.8 201.4,40.7 201.8,40.7 202.3,40.7 202.8,40.6 203.3,40.6 203.8,40.6 204.2,40.6 204.7,40.6 205.2,40.6 205.7,40.6 206.2,40.6 206.7,40.6 207.1,40.6 207.1,43.8 206.7,43.8 206.2,43.8 205.7,43.9 205.2,43.9 204.7,43.9 204.2,44.0 203.8,44.0 203.3,44.0 202.8,44.1 202.3,44.1 201.8,44.2 201.4,44.2 200.9,44.3 200.4,44.3 199.9,44.4 199.4,44.4 198.9,44.5 198.5,44.5 198.0,44.5 197.5,44.5 197.0,44.5 196.5,44.5 196.0,44.5 195.6,44.5Z M210.7,40.2 211.2,40.2 211.7,40.2 212.2,40.1 212.7,40.1 213.2,40.1 213.6,40.1 214.1,40.1 214.6,40.1 215.1,40.1 215.6,40.0 216.0,40.0 216.5,40.0 217.0,40.0 217.5,40.0 218.0,40.0 218.5,40.0 218.9,40.0 219.4,40.0 219.9,40.0 220.4,40.0 220.9,40.0 221.4,40.0 221.8,40.0 222.3,40.0 222.3,43.2 221.8,43.2 221.4,43.2 220.9,43.2 220.4,43.2 219.9,43.2 219.4,43.2 218.9,43.2 218.5,43.3 218.0,43.3 217.5,43.3 217.0,43.3 216.5,43.3 216.0,43.3 215.6,43.3 215.1,43.3 214.6,43.4 214.1,43.4 213.6,43.4 213.2,43.4 212.7,43.4 212.2,43.4 211.7,43.4 211.2,43.4 210.7,43.4Z M225.9,40.1 226.4,40.1 226.9,40.1 227.3,40.1 227.8,40.1 228.3,40.1 228.8,40.1 229.3,40.1 229.8,40.1 230.2,40.1 230.7,40.1 231.2,40.1 231.7,40.2 232.2,40.2 232.7,40.2 233.1,40.2 233.6,40.2 234.1,40.3 234.6,40.3 235.1,40.3 235.6,40.3 236.0,40.4 236.5,40.4 237.0,40.4 237.5,40.4 237.5,43.6 237.0,43.6 236.5,43.6 236.0,43.6 235.6,43.6 235.1,43.6 234.6,43.6 234.1,43.6 233.6,43.6 233.1,43.6 232.7,43.5 232.2,43.5 231.7,43.5 231.2,43.5 230.7,43.5 230.2,43.4 229.8,43.4 229.3,43.4 228.8,43.4 228.3,43.4 227.8,43.3 227.3,43.3 226.9,43.3 226.4,43.3 225.9,43.3Z M241.1,40.9 241.5,40.9 242.0,40.9 242.5,40.9 243.0,40.9 243.5,40.9 244.0,40.9 244.4,41.0 244.9,41.0 245.4,41.1 245.9,41.1 246.4,41.1 246.9,41.2 247.3,41.2 247.8,41.3 248.3,41.3 248.8,41.4 249.3,41.4 249.7,41.5 250.2,41.6 250.7,41.6 251.2,41.7 251.7,41.7 252.2,41.8 252.6,41.8 252.6,45.0 252.2,45.0 251.7,45.0 251.2,45.0 250.7,45.0 250.2,45.0 249.7,45.0 249.3,45.0 248.8,45.0 248.3,44.9 247.8,44.8 247.3,44.8 246.9,44.7 246.4,44.7 245.9,44.6 245.4,44.6 244.9,44.5 244.4,44.5 244.0,44.4 243.5,44.4 243.0,44.3 242.5,44.3 242.0,44.2 241.5,44.2 241.1,44.1Z M256.2,42.8 256.7,42.8 257.2,42.8 257.7,42.8 258.2,42.8 258.6,42.8 259.1,42.8 259.6,42.8 260.1,42.9 260.6,43.0 261.0,43.0 261.5,43.1 262.0,43.2 262.5,43.3 263.0,43.3 263.5,43.4 263.9,43.5 264.4,43.6 264.9,43.7 265.4,43.8 265.9,43.8 266.4,43.9 266.8,44.0 267.3,44.1 267.8,44.2 267.8,47.4 267.3,47.4 266.8,47.4 266.4,47.4 265.9,47.4 265.4,47.4 264.9,47.4 264.4,47.4 263.9,47.3 263.5,47.2 263.0,47.1 262.5,47.0 262.0,46.9 261.5,46.8 261.0,46.8 260.6,46.7 260.1,46.6 259.6,46.5 259.1,46.4 258.6,46.4 258.2,46.3 257.7,46.2 257.2,46.1 256.7,46.0 256.2,46.0Z M271.4,45.6 271.9,45.6 272.4,45.6 272.8,45.6 273.3,45.6 273.8,45.6 274.3,45.6 274.8,45.6 275.3,45.7 275.7,45.8 276.2,45.9 276.7,46.0 277.2,46.1 277.7,46.2 278.2,46.4 278.6,46.5 279.1,46.6 279.6,46.7 280.1,46.8 280.6,46.9 281.1,47.0 281.5,47.2 282.0,47.3 282.5,47.4 283.0,47.5 283.0,50.7 282.5,50.7 282.0,50.7 281.5,50.7 281.1,50.7 280.6,50.7 280.1,50.7 279.6,50.7 279.1,50.5 278.6,50.4 278.2,50.3 277.7,50.2 277.2,50.1 276.7,50.0 276.2,49.8 275.7,49.7 275.3,49.6 274.8,49.5 274.3,49.4 273.8,49.3 273.3,49.2 272.8,49.1 272.4,49.0 271.9,48.9 271.4,48.8Z M286.6,49.3 287.0,49.3 287.5,49.3 288.0,49.3 288.5,49.3 289.0,49.3 289.5,49.3 289.9,49.3 290.4,49.5 290.9,49.6 291.4,49.7 291.9,49.9 292.4,50.0 292.8,50.2 293.3,50.3 293.8,50.4 294.3,50.6 294.8,50.7 295.2,50.9 295.7,51.0 296.2,51.2 296.7,51.3 297.2,51.5 297.7,51.6 298.1,51.8 298.1,55.0 297.7,55.0 297.2,55.0 296.7,55.0 296.2,55.0 295.7,55.0 295.2,55.0 294.8,54.9 294.3,54.8 293.8,54.6 293.3,54.5 292.8,54.3 292.4,54.2 291.9,54.0 291.4,53.9 290.9,53.7 290.4,53.6 289.9,53.5 289.5,53.3 289.0,53.2 288.5,53.0 288.0,52.9 287.5,52.8 287.0,52.6 286.6,52.5Z M301.7,54.0 302.2,54.0 302.7,54.0 303.2,54.0 303.7,54.0 304.1,54.0 304.6,54.0 305.1,54.0 305.6,54.2 306.1,54.3 306.5,54.5 307.0,54.7 307.5,54.9 308.0,55.0 308.5,55.2 309.0,55.4 309.4,55.5 309.9,55.7 310.4,55.9 310.9,56.1 311.4,56.2 311.9,56.4 312.3,56.6 312.8,56.8 313.3,56.9 313.3,60.1 312.8,60.1 312.3,60.1 311.9,60.1 311.4,60.1 310.9,60.1 310.4,60.1 309.9,60.1 309.4,59.9 309.0,59.7 308.5,59.5 308.0,59.4 307.5,59.2 307.0,59.0 306.5,58.8 306.1,58.7 305.6,58.5 305.1,58.3 304.6,58.2 304.1,58.0 303.7,57.8 303.2,57.7 302.7,57.5 302.2,57.3 301.7,57.2Z M316.9,59.6 317.4,59.6 317.8,59.6 318.3,59.6 318.8,59.6 319.3,59.6 319.8,59.6 320.3,59.6 320.7,59.8 321.2,60.0 321.7,60.2 322.2,60.4 322.7,60.6 323.2,60.8 323.6,61.0 324.1,61.2 324.6,61.4 325.1,61.6 325.6,61.8 326.0,62.0 326.5,62.2 327.0,62.4 327.5,62.6 328.0,62.8 328.5,63.0 328.5,66.2 328.0,66.2 327.5,66.2 327.0,66.2 326.5,66.2 326.0,66.2 325.6,66.2 325.1,66.2 324.6,66.0 324.1,65.8 323.6,65.5 323.2,65.3 322.7,65.1 322.2,64.9 321.7,64.7 321.2,64.5 320.7,64.3 320.3,64.1 319.8,63.9 319.3,63.7 318.8,63.5 318.3,63.3 317.8,63.1 317.4,62.9 316.9,62.8Z M332.1,66.1 332.5,66.1 333.0,66.1 333.5,66.1 334.0,66.1 334.5,66.1 335.0,66.1 335.4,66.2 335.9,66.4 336.4,66.6 336.9,66.8 337.4,67.1 337.9,67.3 338.3,67.5 338.8,67.7 339.3,68.0 339.8,68.2 340.3,68.4 340.7,68.7 341.2,68.9 341.7,69.1 342.2,69.4 342.7,69.6 343.2,69.8 343.6,70.1 343.6,73.3 343.2,73.3 342.7,73.3 342.2,73.3 341.7,73.3 341.2,73.3 340.7,73.3 340.3,73.2 339.8,73.0 339.3,72.7 338.8,72.5 338.3,72.2 337.9,72.0 337.4,71.8 336.9,71.6 336.4,71.3 335.9,71.1 335.4,70.9 335.0,70.6 334.5,70.4 334.0,70.2 333.5,70.0 333.0,69.7 332.5,69.5 332.1,69.3Z M347.2,73.5 347.7,73.5 348.2,73.5 348.7,73.5 349.2,73.5 349.6,73.5 350.1,73.5 350.6,73.6 351.1,73.9 351.6,74.1 352.0,74.4 352.5,74.6 353.0,74.9 353.5,75.1 354.0,75.4 354.5,75.6 354.9,75.9 355.4,76.2 355.9,76.4 356.4,76.7 356.9,77.0 357.4,77.2 357.8,77.5 358.3,77.7 358.8,78.0 358.8,81.2 358.3,81.2 357.8,81.2 357.4,81.2 356.9,81.2 356.4,81.2 355.9,81.2 355.4,81.1 354.9,80.8 354.5,80.6 354.0,80.3 353.5,80.1 353.0,79.8 352.5,79.5 352.0,79.3 351.6,79.0 351.1,78.8 350.6,78.5 350.1,78.2 349.6,78.0 349.2,77.7 348.7,77.5 348.2,77.2 347.7,77.0 347.2,76.7Z M362.4,81.9 362.9,81.9 363.3,81.9 363.8,81.9 364.3,81.9 364.8,81.9 365.3,81.9 365.8,82.0 366.2,82.2 366.7,82.5 367.2,82.8 367.7,83.1 368.2,83.4 368.7,83.7 369.1,83.9 369.6,84.2 370.1,84.5 370.6,84.8 371.1,85.1 371.5,85.4 372.0,85.7 372.5,86.0 373.0,86.3 373.5,86.6 374.0,86.9 374.0,90.1 373.5,90.1 373.0,90.1 372.5,90.1 372.0,90.1 371.5,90.1 371.1,90.1 370.6,89.9 370.1,89.6 369.6,89.4 369.1,89.1 368.7,88.8 368.2,88.5 367.7,88.2 367.2,87.9 366.7,87.6 366.2,87.3 365.8,87.0 365.3,86.7 364.8,86.5 364.3,86.2 363.8,85.9 363.3,85.6 362.9,85.3 362.4,85.1Z M377.5,91.1 378.0,91.1 378.5,91.1 379.0,91.1 379.5,91.1 380.0,91.1 380.4,91.1 380.9,91.2 381.4,91.5 381.9,91.8 382.4,92.1 382.8,92.4 383.3,92.8 383.8,93.1 384.3,93.4 384.8,93.7 385.3,94.0 385.7,94.3 386.2,94.7 386.7,95.0 387.2,95.3 387.7,95.6 388.2,95.9 388.6,96.3 389.1,96.6 389.1,99.8 388.6,99.8 388.2,99.8 387.7,99.8 387.2,99.8 386.7,99.8 386.2,99.8 385.7,99.7 385.3,99.3 384.8,99.0 384.3,98.7 383.8,98.4 383.3,98.1 382.8,97.7 382.4,97.4 381.9,97.1 381.4,96.8 380.9,96.5 380.4,96.2 380.0,95.8 379.5,95.5 379.0,95.2 378.5,94.9 378.0,94.6 377.5,94.3Z M392.7,101.2 393.2,101.2 393.7,101.2 394.2,101.2 394.7,101.2 395.1,101.2 395.6,101.2 396.1,101.4 396.6,101.7 397.1,102.0 397.5,102.4 398.0,102.7 398.5,103.1 399.0,103.4 399.5,103.7 400.0,104.1 400.4,104.4 400.9,104.8 401.4,105.1 401.9,105.5 402.4,105.8 402.9,106.2 403.3,106.5 403.8,106.9 404.3,107.2 404.3,110.4 403.8,110.4 403.3,110.4 402.9,110.4 402.4,110.4 401.9,110.4 401.4,110.4 400.9,110.3 400.4,109.9 400.0,109.6 399.5,109.2 399.0,108.9 398.5,108.5 398.0,108.2 397.5,107.8 397.1,107.5 396.6,107.2 396.1,106.8 395.6,106.5 395.1,106.1 394.7,105.8 394.2,105.4 393.7,105.1 393.2,104.8 392.7,104.4Z M407.9,112.2 408.4,112.2 408.8,112.2 409.3,112.2 409.8,112.2 410.3,112.2 410.8,112.2 411.3,112.4 411.7,112.7 412.2,113.1 412.7,113.5 413.2,113.8 413.7,114.2 414.2,114.6 414.6,115.0 415.1,115.3 415.6,115.7 416.1,116.1 416.6,116.4 417.0,116.8 417.5,117.2 418.0,117.6 418.5,118.0 419.0,118.3 419.5,118.7 419.5,121.9 419.0,121.9 418.5,121.9 418.0,121.9 417.5,121.9 417.0,121.9 416.6,121.9 416.1,121.8 415.6,121.4 415.1,121.0 414.6,120.6 414.2,120.3 413.7,119.9 413.2,119.5 412.7,119.1 412.2,118.8 411.7,118.4 411.3,118.0 410.8,117.6 410.3,117.3 409.8,116.9 409.3,116.5 408.8,116.2 408.4,115.8 407.9,115.4Z M423.0,124.1 423.5,124.1 424.0,124.1 424.5,124.1 425.0,124.1 425.5,124.1 425.9,124.1 426.4,124.3 426.9,124.7 427.4,125.1 427.9,125.5 428.3,125.9 428.8,126.3 429.3,126.7 429.8,127.0 430.3,127.4 430.8,127.8 431.2,128.2 431.7,128.7 432.2,129.1 432.7,129.5 433.2,129.9 433.7,130.3 434.1,130.7 434.6,131.1 434.6,134.3 434.1,134.3 433.7,134.3 433.2,134.3 432.7,134.3 432.2,134.3 431.7,134.3 431.2,134.1 430.8,133.7 430.3,133.3 429.8,132.9 429.3,132.5 428.8,132.1 428.3,131.7 427.9,131.3 427.4,130.9 426.9,130.5 426.4,130.1 425.9,129.7 425.5,129.3 425.0,128.9 424.5,128.5 424.0,128.1 423.5,127.7 423.0,127.3Z M438.2,136.9 438.7,136.9 439.2,136.9 439.6,136.9 440.1,136.9 440.6,136.9 441.1,136.9 441.6,137.0 442.1,137.5 442.5,137.9 443.0,138.3 443.5,138.7 444.0,139.2 444.5,139.6 445.0,140.0 445.4,140.4 445.9,140.9 446.4,141.3 446.9,141.7 447.4,142.2 447.9,142.6 448.3,143.0 448.8,143.4 449.3,143.9 449.8,144.3 449.8,147.5 449.3,147.5 448.8,147.5 448.3,147.5 447.9,147.5 447.4,147.5 446.9,147.5 446.4,147.4 445.9,146.9 445.4,146.5 445.0,146.1 444.5,145.6 444.0,145.2 443.5,144.8 443.0,144.3 442.5,143.9 442.1,143.5 441.6,143.1 441.1,142.6 440.6,142.2 440.1,141.8 439.6,141.4 439.2,140.9 438.7,140.5 438.2,140.1Z M453.4,150.5 453.9,150.5 454.3,150.5 454.8,150.5 455.3,150.5 455.8,150.5 456.3,150.5 456.8,150.7 457.2,151.1 457.7,151.6 458.2,152.0 458.7,152.5 459.2,152.9 459.7,153.4 460.1,153.9 460.6,154.3 461.1,154.8 461.6,155.2 462.1,155.7 462.5,156.1 463.0,156.6 463.5,157.0 464.0,157.5 464.5,158.0 465.0,158.4 465.0,161.6 464.5,161.6 464.0,161.6 463.5,161.6 463.0,161.6 462.5,161.6 462.1,161.6 461.6,161.5 461.1,161.0 460.6,160.5 460.1,160.1 459.7,159.6 459.2,159.2 458.7,158.7 458.2,158.2 457.7,157.8 457.2,157.3 456.8,156.9 456.3,156.4 455.8,156.0 455.3,155.5 454.8,155.1 454.3,154.6 453.9,154.2 453.4,153.7Z M468.5,165.0 469.0,165.0 469.5,165.0 470.0,165.0 470.5,165.0 470.9,165.0 471.4,165.0 471.9,165.2 472.4,165.7 472.9,166.1 473.4,166.6 473.8,167.1 474.3,167.6 474.8,168.0 475.3,168.5 475.8,169.0 476.2,169.5 476.7,170.0 477.2,170.4 477.7,170.9 478.2,171.4 478.7,171.9 479.1,172.4 479.6,172.9 480.1,173.4 480.1,176.6 479.6,176.6 479.1,176.6 478.7,176.6 478.2,176.6 477.7,176.6 477.2,176.6 476.7,176.4 476.2,175.9 475.8,175.4 475.3,174.9 474.8,174.4 474.3,174.0 473.8,173.5 473.4,173.0 472.9,172.5 472.4,172.0 471.9,171.5 471.4,171.1 470.9,170.6 470.5,170.1 470.0,169.6 469.5,169.2 469.0,168.7 468.5,168.2Z M483.5,180.1 484.0,180.1 484.5,180.1 485.0,180.1 485.4,180.1 485.9,180.1 486.4,180.1 486.9,180.3 487.4,180.8 487.9,181.3 488.4,181.8 488.8,182.4 489.3,182.9 489.8,183.4 490.3,183.9 490.8,184.4 491.3,184.9 491.7,185.4 492.2,185.9 492.7,186.4 493.2,187.0 493.7,187.5 494.2,188.0 494.7,188.5 494.7,191.7 494.2,191.7 493.7,191.7 493.2,191.7 492.7,191.7 492.2,191.7 491.7,191.7 491.3,191.5 490.8,191.0 490.3,190.5 489.8,189.9 489.3,189.4 488.8,188.9 488.4,188.4 487.9,187.9 487.4,187.4 486.9,186.9 486.4,186.4 485.9,185.9 485.4,185.3 485.0,184.8 484.5,184.3 484.0,183.8 483.5,183.3Z M497.8,195.3 498.3,195.3 498.7,195.3 499.2,195.3 499.7,195.3 500.2,195.3 500.7,195.3 501.2,195.6 501.7,196.1 502.2,196.6 502.7,197.2 503.2,197.7 503.6,198.2 504.1,198.8 504.6,199.3 505.1,199.9 505.6,200.4 506.1,200.9 506.6,201.5 507.1,202.0 507.6,202.6 508.1,203.1 508.5,203.7 508.5,206.9 508.1,206.9 507.6,206.9 507.1,206.9 506.6,206.9 506.1,206.9 505.6,206.9 505.1,206.6 504.6,206.1 504.1,205.5 503.6,205.0 503.2,204.4 502.7,203.9 502.2,203.3 501.7,202.8 501.2,202.3 500.7,201.7 500.2,201.2 499.7,200.6 499.2,200.1 498.7,199.6 498.3,199.0 497.8,198.5Z M511.4,210.5 511.9,210.5 512.4,210.5 512.9,210.5 513.4,210.5 513.9,210.5 514.4,210.5 514.9,210.8 515.4,211.4 515.9,211.9 516.4,212.5 516.8,213.1 517.3,213.7 517.8,214.2 518.3,214.8 518.8,215.4 519.3,216.0 519.8,216.5 520.3,217.1 520.8,217.7 521.3,218.3 521.8,218.9 521.8,222.1 521.3,222.1 520.8,222.1 520.3,222.1 519.8,222.1 519.3,222.1 518.8,222.1 518.3,221.7 517.8,221.1 517.3,220.5 516.8,220.0 516.4,219.4 515.9,218.8 515.4,218.2 514.9,217.7 514.4,217.1 513.9,216.5 513.4,215.9 512.9,215.4 512.4,214.8 511.9,214.2 511.4,213.7Z M524.4,225.6 524.9,225.6 525.4,225.6 525.9,225.6 526.3,225.6 526.8,225.6 527.3,225.6 527.8,225.9 528.3,226.4 528.8,227.0 529.3,227.6 529.7,228.2 530.2,228.8 530.7,229.3 531.2,229.9 531.7,230.5 532.2,231.1 532.7,231.7 533.1,232.3 533.6,232.8 534.1,233.4 534.6,234.0 534.6,237.2 534.1,237.2 533.6,237.2 533.1,237.2 532.7,237.2 532.2,237.2 531.7,237.2 531.2,237.0 530.7,236.4 530.2,235.8 529.7,235.2 529.3,234.6 528.8,234.0 528.3,233.5 527.8,232.9 527.3,232.3 526.8,231.7 526.3,231.1 525.9,230.6 525.4,230.0 524.9,229.4 524.4,228.8Z M537.0,240.8 537.5,240.8 538.0,240.8 538.4,240.8 538.9,240.8 539.4,240.8 539.9,240.8 540.4,241.1 540.9,241.8 541.4,242.4 541.9,243.0 542.4,243.6 542.9,244.2 543.4,244.8 543.9,245.4 544.4,246.1 544.9,246.7 545.4,247.3 545.9,247.9 546.4,248.5 546.9,249.2 546.9,252.4 546.4,252.4 545.9,252.4 545.4,252.4 544.9,252.4 544.4,252.4 543.9,252.4 543.4,252.0 542.9,251.4 542.4,250.8 541.9,250.2 541.4,249.5 540.9,248.9 540.4,248.3 539.9,247.7 539.4,247.1 538.9,246.5 538.4,245.8 538.0,245.2 537.5,244.6 537.0,244.0Z M549.1,256.0 549.5,256.0 550.0,256.0 550.5,256.0 551.0,256.0 551.5,256.0 552.0,256.0 552.5,256.2 552.9,256.8 553.4,257.5 553.9,258.1 554.4,258.7 554.9,259.3 555.4,260.0 555.9,260.6 556.4,261.2 556.8,261.8 557.3,262.5 557.8,263.1 558.3,263.7 558.8,264.3 558.8,267.5 558.3,267.5 557.8,267.5 557.3,267.5 556.8,267.5 556.4,267.5 555.9,267.5 555.4,267.3 554.9,266.7 554.4,266.0 553.9,265.4 553.4,264.8 552.9,264.1 552.5,263.5 552.0,262.9 551.5,262.3 551.0,261.6 550.5,261.0 550.0,260.4 549.5,259.8 549.1,259.2Z M560.8,271.1 561.2,271.1 561.7,271.1 562.1,271.1 562.6,271.1 563.1,271.1 563.5,271.1 564.0,271.2 564.5,271.8 564.9,272.4 565.4,273.0 565.4,276.2 564.9,276.2 564.5,276.2 564.0,276.2 563.5,276.2 563.1,276.2 562.6,276.2 562.1,276.1 561.7,275.5 561.2,274.9 560.8,274.3Z" fill="#929292"/>
<path d="M134.2,90.7 134.7,90.6 135.2,90.4 135.7,90.3 136.2,90.2 136.7,90.1 137.2,89.9 137.7,89.8 138.2,89.7 138.7,89.6 139.2,89.5 139.7,89.3 140.2,89.2 140.7,89.1 141.2,89.0 141.7,88.9 142.2,88.8 142.7,88.7 143.2,88.6 143.7,88.5 144.2,88.4 144.7,88.3 145.2,88.2 145.7,88.1 146.2,88.0 146.7,87.9 147.2,87.8 147.7,87.7 148.2,87.6 148.7,87.5 149.2,87.4 149.7,87.3 150.2,87.3 150.7,87.2 151.2,87.1 151.7,87.0 152.2,86.9 152.7,86.9 153.2,86.8 153.7,86.7 154.2,86.6 154.7,86.5 155.2,86.5 155.7,86.4 156.2,86.3 156.7,86.3 157.2,86.2 157.7,86.1 158.2,86.1 158.7,86.0 159.2,85.9 159.7,85.9 160.2,85.8 160.7,85.8 161.2,85.7 161.7,85.7 162.2,85.6 162.7,85.6 163.2,85.5 163.7,85.5 164.2,85.4 164.7,85.4 165.2,85.3 165.7,85.3 166.2,85.2 166.7,85.2 167.2,85.2 167.7,85.1 168.2,85.1 168.7,85.0 169.2,85.0 169.7,85.0 170.2,84.9 170.7,84.9 171.2,84.9 171.7,84.9 172.2,84.8 172.7,84.8 173.2,84.8 173.7,84.8 174.2,84.7 174.7,84.7 175.2,84.7 175.7,84.7 176.2,84.7 176.7,84.7 177.2,84.6 177.7,84.6 178.2,84.6 178.7,84.6 179.2,84.6 179.7,84.6 180.2,84.6 180.7,84.6 181.2,84.6 181.7,84.6 182.2,84.6 182.7,84.6 183.2,84.6 183.7,84.6 184.2,84.6 184.7,84.6 185.2,84.6 185.7,84.6 186.2,84.6 186.7,84.6 187.2,84.6 187.7,84.6 188.2,84.6 188.7,84.6 189.2,84.6 189.7,84.7 190.2,84.7 190.7,84.7 191.2,84.7 191.7,84.7 192.2,84.7 192.7,84.8 193.2,84.8 193.7,84.8 194.2,84.8 194.7,84.8 195.2,84.9 195.7,84.9 196.2,84.9 196.7,85.0 197.2,85.0 197.7,85.0 198.2,85.1 198.7,85.1 199.2,85.1 199.7,85.2 200.2,85.2 200.7,85.3 201.2,85.3 201.7,85.3 202.2,85.4 202.7,85.4 203.2,85.5 203.7,85.5 204.2,85.6 204.7,85.6 205.2,85.7 205.7,85.7 206.2,85.8 206.7,85.8 207.2,85.9 207.7,86.0 208.2,86.0 208.7,86.1 209.2,86.2 209.7,86.2 210.2,86.3 210.7,86.4 211.2,86.4 211.7,86.5 212.2,86.6 212.7,86.6 213.2,86.7 213.7,86.8 214.2,86.9 214.7,86.9 215.2,87.0 215.7,87.1 216.2,87.2 216.7,87.3 217.2,87.4 217.7,87.4 218.2,87.5 218.7,87.6 219.2,87.7 219.7,87.8 220.2,87.9 220.7,88.0 221.2,88.1 221.7,88.2 222.2,88.3 222.7,88.4 223.2,88.5 223.7,88.6 224.2,88.7 224.7,88.8 225.2,88.9 225.7,89.0 226.2,89.1 226.7,89.2 227.2,89.3 227.7,89.4 228.2,89.6 228.7,89.7 229.2,89.8 229.7,89.9 230.2,90.0 230.7,90.1 231.2,90.3 231.7,90.4 232.2,90.5 232.7,90.6 233.2,90.8 233.7,90.9 234.2,91.0 234.7,91.1 235.2,91.3 235.7,91.4 236.2,91.5 236.7,91.7 237.2,91.8 237.7,92.0 238.2,92.1 238.7,92.2 239.2,92.4 239.7,92.5 240.2,92.7 240.7,92.8 241.2,93.0 241.7,93.1 242.2,93.3 242.7,93.4 243.2,93.6 243.7,93.7 244.2,93.9 244.7,94.0 245.2,94.2 245.7,94.3 246.2,94.5 246.7,94.7 247.2,94.8 247.7,95.0 248.2,95.2 248.7,95.3 249.2,95.5 249.7,95.7 250.2,95.8 250.7,96.0 251.2,96.2 251.7,96.4 252.2,96.5 252.7,96.7 253.2,96.9 253.7,97.1 254.2,97.3 254.7,97.4 255.2,97.6 255.7,97.8 256.2,98.0 256.7,98.2 257.2,98.4 257.7,98.6 258.2,98.7 258.7,98.9 259.2,99.1 259.7,99.3 260.2,99.5 260.7,99.7 261.2,99.9 261.7,100.1 262.2,100.3 262.7,100.5 263.2,100.7 263.7,100.9 264.1,101.1 264.6,101.4 265.1,101.6 265.6,101.8 266.1,102.0 266.6,102.2 267.1,102.4 267.6,102.6 268.1,102.8 268.6,103.1 269.1,103.3 269.6,103.5 270.1,103.7 270.6,103.9 271.1,104.2 271.6,104.4 272.1,104.6 272.6,104.9 273.1,105.1 273.6,105.3 274.1,105.5 274.6,105.8 275.1,106.0 275.6,106.3 276.1,106.5 276.6,106.7 277.1,107.0 277.6,107.2 278.1,107.5 278.6,107.7 279.1,107.9 279.6,108.2 280.1,108.4 280.6,108.7 281.1,108.9 281.6,109.2 282.1,109.4 282.6,109.7 283.1,109.9 283.6,110.2 284.1,110.5 284.6,110.7 285.1,111.0 285.6,111.2 286.1,111.5 286.6,111.8 287.1,112.0 287.6,112.3 288.1,112.6 288.6,112.8 289.1,113.1 289.6,113.4 290.1,113.7 290.6,113.9 291.1,114.2 291.6,114.5 292.1,114.8 292.6,115.0 293.1,115.3 293.6,115.6 294.1,115.9 294.6,116.2 295.1,116.4 295.6,116.7 296.1,117.0 296.6,117.3 297.1,117.6 297.6,117.9 298.1,118.2 298.6,118.5 299.1,118.8 299.6,119.1 300.1,119.4 300.6,119.7 301.1,120.0 301.6,120.3 302.1,120.6 302.6,120.9 303.1,121.2 303.6,121.5 304.1,121.8 304.6,122.1 305.1,122.4 305.6,122.7 306.1,123.0 306.6,123.4 307.1,123.7 307.6,124.0 308.1,124.3 308.6,124.6 309.1,124.9 309.6,125.3 310.1,125.6 310.6,125.9 311.1,126.2 311.6,126.6 312.1,126.9 312.6,127.2 313.1,127.6 313.6,127.9 314.1,128.2 314.6,128.6 315.1,128.9 315.6,129.2 316.1,129.6 316.6,129.9 317.1,130.2 317.6,130.6 318.1,130.9 318.6,131.3 319.1,131.6 319.6,132.0 320.1,132.3 320.6,132.7 321.1,133.0 321.6,133.4 322.1,133.7 322.6,134.1 323.1,134.4 323.6,134.8 324.1,135.1 324.6,135.5 325.1,135.9 325.6,136.2 326.1,136.6 326.6,136.9 327.1,137.3 327.6,137.7 328.1,138.0 328.6,138.4 329.1,138.8 329.6,139.2 330.1,139.5 330.6,139.9 331.1,140.3 331.6,140.7 332.1,141.0 332.6,141.4 333.1,141.8 333.6,142.2 334.1,142.5 334.6,142.9 335.1,143.3 335.6,143.7 336.1,144.1 336.6,144.5 337.1,144.9 337.6,145.3 338.1,145.7 338.6,146.0 339.1,146.4 339.6,146.8 340.1,147.2 340.6,147.6 341.1,148.0 341.6,148.4 342.1,148.8 342.6,149.2 343.1,149.6 343.6,150.0 344.1,150.5 344.6,150.9 345.1,151.3 345.6,151.7 346.1,152.1 346.6,152.5 347.1,152.9 347.6,153.3 348.1,153.8 348.6,154.2 349.1,154.6 349.6,155.0 350.1,155.4 350.6,155.9 351.1,156.3 351.6,156.7 352.1,157.1 352.6,157.6 353.1,158.0 353.6,158.4 354.1,158.8 354.6,159.3 355.1,159.7 355.6,160.1 356.1,160.6 356.6,161.0 357.1,161.5 357.6,161.9 358.1,162.3 358.6,162.8 359.1,163.2 359.6,163.7 360.1,164.1 360.6,164.6 361.1,165.0 361.6,165.5 362.1,165.9 362.6,166.4 363.1,166.8 363.6,167.3 364.1,167.7 364.6,168.2 365.1,168.6 365.6,169.1 366.1,169.6 366.6,170.0 367.1,170.5 367.6,170.9 368.1,171.4 368.6,171.9 369.1,172.3 369.6,172.8 370.1,173.3 370.6,173.8 371.1,174.2 371.6,174.7 372.1,175.2 372.6,175.7 373.1,176.1 373.6,176.6 374.1,177.1 374.6,177.6 375.1,178.0 375.6,178.5 376.1,179.0 376.6,179.5 377.1,180.0 377.6,180.5 378.1,181.0 378.6,181.5 379.1,181.9 379.6,182.4 380.1,182.9 380.6,183.4 381.1,183.9 381.6,184.4 382.1,184.9 382.6,185.4 383.1,185.9 383.6,186.4 384.1,186.9 384.6,187.4 385.1,187.9 385.6,188.4 386.1,189.0 386.6,189.5 387.1,190.0 387.6,190.5 388.1,191.0 388.6,191.5 389.1,192.0 389.6,192.5 390.1,193.1 390.6,193.6 391.1,194.1 391.6,194.6 392.1,195.1 392.6,195.7 393.1,196.2 393.6,196.7 394.1,197.3 394.6,197.8 395.1,198.3 395.6,198.8 396.1,199.4 396.6,199.9 397.1,200.4 397.6,201.0 398.1,201.5 398.6,202.1 399.1,202.6 399.6,203.1 400.1,203.7 400.6,204.2 401.1,204.8 401.6,205.3 402.1,205.9 402.6,206.4 403.1,206.9 403.6,207.5 404.1,208.0 404.6,208.6 405.1,209.2 405.6,209.7 406.1,210.3 406.6,210.8 407.1,211.4 407.6,211.9 408.1,212.5 408.6,213.1 409.1,213.6 409.6,214.2 410.1,214.8 410.6,215.3 411.1,215.9 411.6,216.5 412.1,217.0 412.6,217.6 413.1,218.2 413.6,218.7 414.1,219.3 414.6,219.9 415.1,220.5 415.6,221.0 416.1,221.6 416.6,222.2 417.1,222.8 417.6,223.4 418.1,224.0 418.6,224.5 419.1,225.1 419.6,225.7 420.1,226.3 420.6,226.9 421.1,227.5 421.6,228.1 422.1,228.7 422.6,229.3 423.1,229.9 423.6,230.5 424.1,231.1 424.6,231.7 425.1,232.3 425.6,232.9 426.1,233.5 426.6,234.1 427.1,234.7 427.6,235.3 428.1,235.9 428.6,236.5 429.1,237.1 429.6,237.7 430.1,238.3 430.6,238.9 431.1,239.6 431.6,240.2 432.1,240.8 432.6,241.4 433.1,242.0 433.6,242.6 434.1,243.3 434.6,243.9 435.1,244.5 435.6,245.1 436.1,245.8 436.6,246.4 437.1,247.0 437.6,247.6 438.1,248.3 438.6,248.9 439.1,249.5 439.6,250.2 440.1,250.8 440.6,251.5 441.1,252.1 441.6,252.7 442.1,253.4 442.6,254.0 443.1,254.7 443.6,255.3 444.1,255.9 444.6,256.6 445.1,257.2 445.6,257.9 446.1,258.5 446.6,259.2 447.1,259.8 447.6,260.5 448.1,261.1 448.6,261.8 449.1,262.5 449.6,263.1 450.1,263.8 450.6,264.4 451.1,265.1 451.6,265.7 452.1,266.4 452.6,267.1 453.1,267.7 453.6,268.4 454.1,269.1 454.6,269.7 455.1,270.4 455.6,271.1 456.1,271.8 456.6,272.4 457.1,273.1 457.6,273.8 458.1,274.5 458.6,275.1 459.1,275.8 459.6,276.5 460.1,277.2 460.6,277.9 461.1,278.5 461.6,279.2 462.1,279.9 462.6,280.6 463.1,281.3 463.6,282.0 464.1,282.7 464.6,283.4 465.1,284.1 465.6,284.8 466.1,285.4 466.6,286.1 467.1,286.8 467.6,287.5 468.1,288.2 468.6,288.9 469.1,289.6 469.6,290.3 470.1,291.1 470.6,291.8 471.1,292.5 471.6,293.2 472.1,293.9 472.6,294.6 473.1,295.3 473.6,296.0 474.1,296.7 474.6,297.4 475.1,298.2 475.6,298.9 476.1,299.6 476.6,300.3 477.1,301.0 477.6,301.8 478.1,302.5 478.6,303.2 479.1,303.9 479.6,304.7 480.1,305.4 480.6,306.1 481.1,306.8 481.6,307.6 482.1,308.3 482.6,309.0 483.1,309.8 483.6,310.5 484.1,311.2 484.6,312.0 485.1,312.7 485.6,313.5 486.1,314.2 486.6,314.9 487.1,315.7 487.6,316.4 488.0,317.2 488.5,317.9 489.0,318.7 489.0,322.1 488.5,322.1 488.0,322.1 487.6,322.1 487.1,322.1 486.6,322.1 486.1,322.1 485.6,321.9 485.1,321.2 484.6,320.4 484.1,319.7 483.6,318.9 483.1,318.2 482.6,317.5 482.1,316.7 481.6,316.0 481.1,315.2 480.6,314.5 480.1,313.8 479.6,313.0 479.1,312.3 478.6,311.6 478.1,310.8 477.6,310.1 477.1,309.4 476.6,308.6 476.1,307.9 475.6,307.2 475.1,306.5 474.6,305.7 474.1,305.0 473.6,304.3 473.1,303.6 472.6,302.9 472.1,302.1 471.6,301.4 471.1,300.7 470.6,300.0 470.1,299.3 469.6,298.6 469.1,297.9 468.6,297.1 468.1,296.4 467.6,295.7 467.1,295.0 466.6,294.3 466.1,293.6 465.6,292.9 465.1,292.2 464.6,291.5 464.1,290.8 463.6,290.1 463.1,289.4 462.6,288.7 462.1,288.0 461.6,287.3 461.1,286.6 460.6,285.9 460.1,285.2 459.6,284.6 459.1,283.9 458.6,283.2 458.1,282.5 457.6,281.8 457.1,281.1 456.6,280.4 456.1,279.8 455.6,279.1 455.1,278.4 454.6,277.7 454.1,277.0 453.6,276.4 453.1,275.7 452.6,275.0 452.1,274.4 451.6,273.7 451.1,273.0 450.6,272.3 450.1,271.7 449.6,271.0 449.1,270.3 448.6,269.7 448.1,269.0 447.6,268.4 447.1,267.7 446.6,267.0 446.1,266.4 445.6,265.7 445.1,265.1 444.6,264.4 444.1,263.8 443.6,263.1 443.1,262.5 442.6,261.8 442.1,261.2 441.6,260.5 441.1,259.9 440.6,259.2 440.1,258.6 439.6,257.9 439.1,257.3 438.6,256.6 438.1,256.0 437.6,255.4 437.1,254.7 436.6,254.1 436.1,253.5 435.6,252.8 435.1,252.2 434.6,251.6 434.1,250.9 433.6,250.3 433.1,249.7 432.6,249.0 432.1,248.4 431.6,247.8 431.1,247.2 430.6,246.5 430.1,245.9 429.6,245.3 429.1,244.7 428.6,244.1 428.1,243.4 427.6,242.8 427.1,242.2 426.6,241.6 426.1,241.0 425.6,240.4 425.1,239.8 424.6,239.2 424.1,238.6 423.6,238.0 423.1,237.3 422.6,236.7 422.1,236.1 421.6,235.5 421.1,234.9 420.6,234.3 420.1,233.7 419.6,233.1 419.1,232.5 418.6,232.0 418.1,231.4 417.6,230.8 417.1,230.2 416.6,229.6 416.1,229.0 415.6,228.4 415.1,227.8 414.6,227.2 414.1,226.7 413.6,226.1 413.1,225.5 412.6,224.9 412.1,224.3 411.6,223.8 411.1,223.2 410.6,222.6 410.1,222.0 409.6,221.5 409.1,220.9 408.6,220.3 408.1,219.7 407.6,219.2 407.1,218.6 406.6,218.0 406.1,217.5 405.6,216.9 405.1,216.4 404.6,215.8 404.1,215.2 403.6,214.7 403.1,214.1 402.6,213.6 402.1,213.0 401.6,212.4 401.1,211.9 400.6,211.3 400.1,210.8 399.6,210.2 399.1,209.7 398.6,209.1 398.1,208.6 397.6,208.1 397.1,207.5 396.6,207.0 396.1,206.4 395.6,205.9 395.1,205.3 394.6,204.8 394.1,204.3 393.6,203.7 393.1,203.2 392.6,202.7 392.1,202.1 391.6,201.6 391.1,201.1 390.6,200.5 390.1,200.0 389.6,199.5 389.1,199.0 388.6,198.4 388.1,197.9 387.6,197.4 387.1,196.9 386.6,196.4 386.1,195.8 385.6,195.3 385.1,194.8 384.6,194.3 384.1,193.8 383.6,193.3 383.1,192.8 382.6,192.3 382.1,191.7 381.6,191.2 381.1,190.7 380.6,190.2 380.1,189.7 379.6,189.2 379.1,188.7 378.6,188.2 378.1,187.7 377.6,187.2 377.1,186.7 376.6,186.2 376.1,185.7 375.6,185.3 375.1,184.8 374.6,184.3 374.1,183.8 373.6,183.3 373.1,182.8 372.6,182.3 372.1,181.8 371.6,181.4 371.1,180.9 370.6,180.4 370.1,179.9 369.6,179.4 369.1,179.0 368.6,178.5 368.1,178.0 367.6,177.5 367.1,177.1 366.6,176.6 366.1,176.1 365.6,175.7 365.1,175.2 364.6,174.7 364.1,174.3 363.6,173.8 363.1,173.3 362.6,172.9 362.1,172.4 361.6,171.9 361.1,171.5 360.6,171.0 360.1,170.6 359.6,170.1 359.1,169.7 358.6,169.2 358.1,168.8 357.6,168.3 357.1,167.9 356.6,167.4 356.1,167.0 355.6,166.5 355.1,166.1 354.6,165.7 354.1,165.2 353.6,164.8 353.1,164.3 352.6,163.9 352.1,163.5 351.6,163.0 351.1,162.6 350.6,162.2 350.1,161.7 349.6,161.3 349.1,160.9 348.6,160.4 348.1,160.0 347.6,159.6 347.1,159.2 346.6,158.7 346.1,158.3 345.6,157.9 345.1,157.5 344.6,157.1 344.1,156.7 343.6,156.2 343.1,155.8 342.6,155.4 342.1,155.0 341.6,154.6 341.1,154.2 340.6,153.8 340.1,153.4 339.6,153.0 339.1,152.6 338.6,152.2 338.1,151.8 337.6,151.4 337.1,151.0 336.6,150.6 336.1,150.2 335.6,149.8 335.1,149.4 334.6,149.0 334.1,148.6 333.6,148.2 333.1,147.8 332.6,147.4 332.1,147.0 331.6,146.6 331.1,146.3 330.6,145.9 330.1,145.5 329.6,145.1 329.1,144.7 328.6,144.4 328.1,144.0 327.6,143.6 327.1,143.2 326.6,142.9 326.1,142.5 325.6,142.1 325.1,141.7 324.6,141.4 324.1,141.0 323.6,140.6 323.1,140.3 322.6,139.9 322.1,139.5 321.6,139.2 321.1,138.8 320.6,138.5 320.1,138.1 319.6,137.8 319.1,137.4 318.6,137.0 318.1,136.7 317.6,136.3 317.1,136.0 316.6,135.6 316.1,135.3 315.6,134.9 315.1,134.6 314.6,134.3 314.1,133.9 313.6,133.6 313.1,133.2 312.6,132.9 312.1,132.6 311.6,132.2 311.1,131.9 310.6,131.6 310.1,131.2 309.6,130.9 309.1,130.6 308.6,130.2 308.1,129.9 307.6,129.6 307.1,129.3 306.6,128.9 306.1,128.6 305.6,128.3 305.1,128.0 304.6,127.6 304.1,127.3 303.6,127.0 303.1,126.7 302.6,126.4 302.1,126.1 301.6,125.8 301.1,125.4 300.6,125.1 300.1,124.8 299.6,124.5 299.1,124.2 298.6,123.9 298.1,123.6 297.6,123.3 297.1,123.0 296.6,122.7 296.1,122.4 295.6,122.1 295.1,121.8 294.6,121.5 294.1,121.2 293.6,120.9 293.1,120.7 292.6,120.4 292.1,120.1 291.6,119.8 291.1,119.5 290.6,119.2 290.1,118.9 289.6,118.7 289.1,118.4 288.6,118.1 288.1,117.8 287.6,117.5 287.1,117.3 286.6,117.0 286.1,116.7 285.6,116.5 285.1,116.2 284.6,115.9 284.1,115.6 283.6,115.4 283.1,115.1 282.6,114.9 282.1,114.6 281.6,114.3 281.1,114.1 280.6,113.8 280.1,113.6 279.6,113.3 279.1,113.0 278.6,112.8 278.1,112.5 277.6,112.3 277.1,112.0 276.6,111.8 276.1,111.5 275.6,111.3 275.1,111.0 274.6,110.8 274.1,110.6 273.6,110.3 273.1,110.1 272.6,109.8 272.1,109.6 271.6,109.4 271.1,109.1 270.6,108.9 270.1,108.7 269.6,108.4 269.1,108.2 268.6,108.0 268.1,107.8 267.6,107.5 267.1,107.3 266.6,107.1 266.1,106.9 265.6,106.6 265.1,106.4 264.6,106.2 264.1,106.0 263.7,105.8 263.2,105.6 262.7,105.3 262.2,105.1 261.7,104.9 261.2,104.7 260.7,104.5 260.2,104.3 259.7,104.1 259.2,103.9 258.7,103.7 258.2,103.5 257.7,103.3 257.2,103.1 256.7,102.9 256.2,102.7 255.7,102.5 255.2,102.3 254.7,102.1 254.2,101.9 253.7,101.7 253.2,101.5 252.7,101.4 252.2,101.2 251.7,101.0 251.2,100.8 250.7,100.6 250.2,100.4 249.7,100.3 249.2,100.1 248.7,99.9 248.2,99.7 247.7,99.6 247.2,99.4 246.7,99.2 246.2,99.0 245.7,98.9 245.2,98.7 244.7,98.5 244.2,98.4 243.7,98.2 243.2,98.0 242.7,97.9 242.2,97.7 241.7,97.6 241.2,97.4 240.7,97.2 240.2,97.1 239.7,96.9 239.2,96.8 238.7,96.6 238.2,96.5 237.7,96.3 237.2,96.2 236.7,96.0 236.2,95.9 235.7,95.8 235.2,95.6 234.7,95.5 234.2,95.3 233.7,95.2 233.2,95.1 232.7,94.9 232.2,94.8 231.7,94.7 231.2,94.5 230.7,94.4 230.2,94.3 229.7,94.1 229.2,94.0 228.7,93.9 228.2,93.8 227.7,93.6 227.2,93.5 226.7,93.4 226.2,93.3 225.7,93.2 225.2,93.0 224.7,92.9 224.2,92.8 223.7,92.7 223.2,92.6 222.7,92.5 222.2,92.4 221.7,92.3 221.2,92.2 220.7,92.1 220.2,92.0 219.7,91.9 219.2,91.8 218.7,91.7 218.2,91.6 217.7,91.5 217.2,91.4 216.7,91.3 216.2,91.2 215.7,91.1 215.2,91.0 214.7,90.9 214.2,90.8 213.7,90.7 213.2,90.7 212.7,90.6 212.2,90.5 211.7,90.4 211.2,90.3 210.7,90.2 210.2,90.2 209.7,90.1 209.2,90.0 208.7,89.9 208.2,89.9 207.7,89.8 207.2,89.7 206.7,89.7 206.2,89.6 205.7,89.5 205.2,89.5 204.7,89.4 204.2,89.4 203.7,89.3 203.2,89.2 202.7,89.2 202.2,89.1 201.7,89.1 201.2,89.0 200.7,89.0 200.2,88.9 199.7,88.9 199.2,88.8 198.7,88.8 198.2,88.7 197.7,88.7 197.2,88.6 196.7,88.6 196.2,88.6 195.7,88.5 195.2,88.5 194.7,88.5 194.2,88.4 193.7,88.4 193.2,88.4 192.7,88.3 192.2,88.3 191.7,88.3 191.2,88.2 190.7,88.2 190.2,88.2 189.7,88.2 189.2,88.1 188.7,88.1 188.2,88.1 187.7,88.1 187.2,88.1 186.7,88.1 186.2,88.0 185.7,88.0 185.2,88.0 184.7,88.0 184.2,88.0 183.7,88.0 183.2,88.0 182.7,88.0 182.2,88.0 181.7,88.0 181.2,88.0 180.7,88.0 180.2,88.1 179.7,88.1 179.2,88.1 178.7,88.1 178.2,88.1 177.7,88.1 177.2,88.2 176.7,88.2 176.2,88.2 175.7,88.2 175.2,88.3 174.7,88.3 174.2,88.3 173.7,88.3 173.2,88.4 172.7,88.4 172.2,88.4 171.7,88.5 171.2,88.5 170.7,88.5 170.2,88.6 169.7,88.6 169.2,88.7 168.7,88.7 168.2,88.8 167.7,88.8 167.2,88.8 166.7,88.9 166.2,88.9 165.7,89.0 165.2,89.1 164.7,89.1 164.2,89.2 163.7,89.2 163.2,89.3 162.7,89.3 162.2,89.4 161.7,89.5 161.2,89.5 160.7,89.6 160.2,89.7 159.7,89.7 159.2,89.8 158.7,89.9 158.2,89.9 157.7,90.0 157.2,90.1 156.7,90.2 156.2,90.2 155.7,90.3 155.2,90.4 154.7,90.5 154.2,90.6 153.7,90.6 153.2,90.7 152.7,90.8 152.2,90.9 151.7,91.0 151.2,91.1 150.7,91.2 150.2,91.3 149.7,91.4 149.2,91.5 148.7,91.6 148.2,91.7 147.7,91.8 147.2,91.9 146.7,92.0 146.2,92.1 145.7,92.2 145.2,92.3 144.7,92.4 144.2,92.5 143.7,92.6 143.2,92.7 142.7,92.8 142.2,93.0 141.7,93.1 141.2,93.2 140.7,93.3 140.2,93.4 139.7,93.6 139.2,93.7 138.7,93.8 138.2,93.9 137.7,94.1 137.2,94.1 136.7,94.1 136.2,94.1 135.7,94.1 135.2,94.1 134.7,94.1 134.2,94.1Z" fill="#000"/>
<path d="M134.9,91.4 135.4,91.3 135.9,91.2 136.4,91.2 136.9,91.1 137.4,91.1 137.9,91.0 138.4,91.0 138.9,90.9 139.4,90.9 139.9,90.8 140.4,90.8 140.9,90.7 141.4,90.7 141.9,90.7 142.4,90.6 142.9,90.6 143.4,90.5 143.9,90.5 144.4,90.5 144.9,90.4 145.4,90.4 145.9,90.4 146.4,90.3 146.9,90.3 147.4,90.3 147.9,90.2 148.4,90.2 148.9,90.2 149.4,90.1 149.9,90.1 150.4,90.1 150.9,90.1 151.4,90.0 151.9,90.0 152.4,90.0 152.9,90.0 153.4,90.0 153.9,90.0 154.4,90.0 154.9,90.0 155.4,90.0 155.4,93.4 154.9,93.4 154.4,93.5 153.9,93.5 153.4,93.5 152.9,93.5 152.4,93.6 151.9,93.6 151.4,93.6 150.9,93.7 150.4,93.7 149.9,93.7 149.4,93.7 148.9,93.8 148.4,93.8 147.9,93.9 147.4,93.9 146.9,93.9 146.4,94.0 145.9,94.0 145.4,94.0 144.9,94.1 144.4,94.1 143.9,94.2 143.4,94.2 142.9,94.3 142.4,94.3 141.9,94.4 141.4,94.4 140.9,94.5 140.4,94.5 139.9,94.6 139.4,94.6 138.9,94.7 138.4,94.7 137.9,94.8 137.4,94.8 136.9,94.8 136.4,94.8 135.9,94.8 135.4,94.8 134.9,94.8Z M162.5,89.8 163.0,89.8 163.5,89.8 164.0,89.8 164.5,89.8 165.0,89.8 165.5,89.8 166.0,89.8 166.5,89.8 167.0,89.8 167.5,89.8 168.0,89.8 168.5,89.8 169.0,89.9 169.5,89.9 170.0,89.9 170.5,89.9 171.0,89.9 171.5,89.9 172.0,89.9 172.5,89.9 173.0,89.9 173.5,90.0 174.0,90.0 174.5,90.0 175.0,90.0 175.5,90.0 176.0,90.1 176.5,90.1 177.0,90.1 177.5,90.1 178.0,90.2 178.5,90.2 179.0,90.2 179.5,90.3 180.0,90.3 180.5,90.3 180.9,90.3 181.4,90.4 181.9,90.4 182.4,90.5 182.9,90.5 182.9,93.9 182.4,93.9 181.9,93.9 181.4,93.9 180.9,93.9 180.5,93.9 180.0,93.9 179.5,93.9 179.0,93.8 178.5,93.8 178.0,93.8 177.5,93.7 177.0,93.7 176.5,93.7 176.0,93.6 175.5,93.6 175.0,93.6 174.5,93.6 174.0,93.5 173.5,93.5 173.0,93.5 172.5,93.5 172.0,93.4 171.5,93.4 171.0,93.4 170.5,93.4 170.0,93.4 169.5,93.3 169.0,93.3 168.5,93.3 168.0,93.3 167.5,93.3 167.0,93.3 166.5,93.3 166.0,93.3 165.5,93.2 165.0,93.2 164.5,93.2 164.0,93.2 163.5,93.2 163.0,93.2 162.5,93.2Z M190.0,91.5 190.5,91.5 191.0,91.5 191.5,91.5 192.0,91.5 192.5,91.5 193.0,91.5 193.5,91.5 194.0,91.6 194.5,91.6 195.0,91.7 195.5,91.8 196.0,91.8 196.5,91.9 197.0,92.0 197.5,92.0 198.0,92.1 198.5,92.2 199.0,92.2 199.5,92.3 200.0,92.4 200.5,92.5 201.0,92.5 201.5,92.6 202.0,92.7 202.5,92.8 203.0,92.8 203.5,92.9 204.0,93.0 204.5,93.1 205.0,93.2 205.5,93.3 206.0,93.3 206.5,93.4 207.0,93.5 207.5,93.6 208.0,93.7 208.5,93.8 209.0,93.9 209.5,94.0 210.0,94.1 210.5,94.2 210.5,97.6 210.0,97.6 209.5,97.6 209.0,97.6 208.5,97.6 208.0,97.6 207.5,97.6 207.0,97.5 206.5,97.4 206.0,97.4 205.5,97.3 205.0,97.2 204.5,97.1 204.0,97.0 203.5,96.9 203.0,96.8 202.5,96.7 202.0,96.6 201.5,96.6 201.0,96.5 200.5,96.4 200.0,96.3 199.5,96.2 199.0,96.2 198.5,96.1 198.0,96.0 197.5,95.9 197.0,95.8 196.5,95.8 196.0,95.7 195.5,95.6 195.0,95.6 194.5,95.5 194.0,95.4 193.5,95.4 193.0,95.3 192.5,95.2 192.0,95.2 191.5,95.1 191.0,95.0 190.5,95.0 190.0,94.9Z M217.6,96.4 218.1,96.4 218.6,96.4 219.1,96.4 219.6,96.4 220.1,96.4 220.6,96.4 221.1,96.4 221.6,96.5 222.1,96.6 222.6,96.8 223.1,96.9 223.6,97.0 224.1,97.1 224.6,97.2 225.1,97.4 225.6,97.5 226.1,97.6 226.6,97.7 227.1,97.9 227.6,98.0 228.1,98.1 228.6,98.3 229.1,98.4 229.6,98.5 230.1,98.7 230.6,98.8 231.1,98.9 231.6,99.1 232.1,99.2 232.6,99.4 233.1,99.5 233.6,99.6 234.1,99.8 234.6,99.9 235.1,100.1 235.6,100.2 236.1,100.4 236.6,100.5 237.1,100.7 237.6,100.8 238.1,101.0 238.1,104.4 237.6,104.4 237.1,104.4 236.6,104.4 236.1,104.4 235.6,104.4 235.1,104.4 234.6,104.3 234.1,104.2 233.6,104.0 233.1,103.9 232.6,103.7 232.1,103.6 231.6,103.4 231.1,103.3 230.6,103.2 230.1,103.0 229.6,102.9 229.1,102.7 228.6,102.6 228.1,102.5 227.6,102.3 227.1,102.2 226.6,102.0 226.1,101.9 225.6,101.8 225.1,101.6 224.6,101.5 224.1,101.4 223.6,101.3 223.1,101.1 222.6,101.0 222.1,100.9 221.6,100.7 221.1,100.6 220.6,100.5 220.1,100.4 219.6,100.3 219.1,100.1 218.6,100.0 218.1,99.9 217.6,99.8Z M245.1,104.4 245.6,104.4 246.1,104.4 246.6,104.4 247.1,104.4 247.6,104.4 248.1,104.4 248.6,104.4 249.1,104.6 249.6,104.7 250.1,104.9 250.6,105.1 251.1,105.3 251.6,105.5 252.1,105.6 252.6,105.8 253.1,106.0 253.6,106.2 254.1,106.4 254.6,106.5 255.1,106.7 255.6,106.9 256.1,107.1 256.6,107.3 257.1,107.5 257.6,107.7 258.1,107.9 258.6,108.1 259.1,108.3 259.6,108.5 260.1,108.6 260.6,108.8 261.1,109.0 261.6,109.2 262.1,109.4 262.6,109.6 263.1,109.8 263.6,110.0 264.1,110.2 264.6,110.5 265.1,110.7 265.6,110.9 265.6,114.3 265.1,114.3 264.6,114.3 264.1,114.3 263.6,114.3 263.1,114.3 262.6,114.3 262.1,114.2 261.6,114.0 261.1,113.8 260.6,113.6 260.1,113.4 259.6,113.2 259.1,113.0 258.6,112.8 258.1,112.6 257.6,112.4 257.1,112.2 256.6,112.0 256.1,111.8 255.6,111.6 255.1,111.4 254.6,111.2 254.1,111.0 253.6,110.9 253.1,110.7 252.6,110.5 252.1,110.3 251.6,110.1 251.1,109.9 250.6,109.7 250.1,109.5 249.6,109.4 249.1,109.2 248.6,109.0 248.1,108.8 247.6,108.6 247.1,108.5 246.6,108.3 246.1,108.1 245.6,107.9 245.1,107.8Z M272.7,115.4 273.2,115.4 273.7,115.4 274.2,115.4 274.7,115.4 275.2,115.4 275.7,115.4 276.2,115.5 276.7,115.7 277.2,115.9 277.7,116.2 278.2,116.4 278.7,116.6 279.2,116.9 279.7,117.1 280.2,117.3 280.7,117.6 281.2,117.8 281.7,118.0 282.2,118.3 282.7,118.5 283.2,118.8 283.7,119.0 284.2,119.2 284.7,119.5 285.2,119.7 285.7,120.0 286.2,120.2 286.7,120.5 287.2,120.7 287.7,121.0 288.2,121.2 288.7,121.5 289.2,121.7 289.7,122.0 290.2,122.2 290.7,122.5 291.2,122.8 291.7,123.0 292.2,123.3 292.7,123.5 293.2,123.8 293.2,127.2 292.7,127.2 292.2,127.2 291.7,127.2 291.2,127.2 290.7,127.2 290.2,127.2 289.7,127.2 289.2,126.9 288.7,126.6 288.2,126.4 287.7,126.1 287.2,125.9 286.7,125.6 286.2,125.3 285.7,125.1 285.2,124.8 284.7,124.6 284.2,124.3 283.7,124.1 283.2,123.8 282.7,123.6 282.2,123.3 281.7,123.1 281.2,122.8 280.7,122.6 280.2,122.4 279.7,122.1 279.2,121.9 278.7,121.6 278.2,121.4 277.7,121.2 277.2,120.9 276.7,120.7 276.2,120.4 275.7,120.2 275.2,120.0 274.7,119.7 274.2,119.5 273.7,119.3 273.2,119.1 272.7,118.8Z M300.3,129.5 300.8,129.5 301.3,129.5 301.8,129.5 302.3,129.5 302.8,129.5 303.3,129.5 303.8,129.6 304.3,129.8 304.8,130.1 305.3,130.4 305.8,130.7 306.3,131.0 306.8,131.3 307.3,131.6 307.8,131.9 308.3,132.1 308.8,132.4 309.3,132.7 309.8,133.0 310.3,133.3 310.8,133.6 311.3,133.9 311.8,134.2 312.3,134.5 312.8,134.8 313.3,135.1 313.8,135.4 314.3,135.7 314.8,136.0 315.3,136.3 315.8,136.6 316.3,136.9 316.8,137.2 317.3,137.5 317.8,137.9 318.3,138.2 318.7,138.5 319.2,138.8 319.7,139.1 320.2,139.4 320.7,139.7 320.7,143.1 320.2,143.1 319.7,143.1 319.2,143.1 318.7,143.1 318.3,143.1 317.8,143.1 317.3,143.1 316.8,142.8 316.3,142.4 315.8,142.1 315.3,141.8 314.8,141.5 314.3,141.2 313.8,140.9 313.3,140.6 312.8,140.3 312.3,140.0 311.8,139.7 311.3,139.4 310.8,139.1 310.3,138.8 309.8,138.4 309.3,138.1 308.8,137.8 308.3,137.6 307.8,137.3 307.3,137.0 306.8,136.7 306.3,136.4 305.8,136.1 305.3,135.8 304.8,135.5 304.3,135.2 303.8,134.9 303.3,134.6 302.8,134.3 302.3,134.0 301.8,133.8 301.3,133.5 300.8,133.2 300.3,132.9Z M327.8,146.6 328.3,146.6 328.8,146.6 329.3,146.6 329.8,146.6 330.3,146.6 330.8,146.6 331.3,146.6 331.8,147.0 332.3,147.3 332.8,147.6 333.3,148.0 333.8,148.3 334.3,148.7 334.8,149.0 335.3,149.3 335.8,149.7 336.3,150.0 336.8,150.4 337.3,150.7 337.8,151.1 338.3,151.4 338.8,151.8 339.3,152.1 339.8,152.5 340.3,152.8 340.8,153.2 341.3,153.5 341.8,153.9 342.3,154.3 342.8,154.6 343.3,155.0 343.8,155.3 344.3,155.7 344.8,156.1 345.3,156.4 345.8,156.8 346.3,157.1 346.8,157.5 347.3,157.9 347.8,158.2 348.3,158.6 348.3,162.0 347.8,162.0 347.3,162.0 346.8,162.0 346.3,162.0 345.8,162.0 345.3,162.0 344.8,161.9 344.3,161.6 343.8,161.2 343.3,160.8 342.8,160.5 342.3,160.1 341.8,159.7 341.3,159.4 340.8,159.0 340.3,158.7 339.8,158.3 339.3,157.9 338.8,157.6 338.3,157.2 337.8,156.9 337.3,156.5 336.8,156.2 336.3,155.8 335.8,155.5 335.3,155.1 334.8,154.8 334.3,154.4 333.8,154.1 333.3,153.7 332.8,153.4 332.3,153.0 331.8,152.7 331.3,152.3 330.8,152.0 330.3,151.7 329.8,151.3 329.3,151.0 328.8,150.6 328.3,150.3 327.8,150.0Z M355.4,166.5 355.9,166.5 356.4,166.5 356.9,166.5 357.4,166.5 357.9,166.5 358.4,166.5 358.9,166.6 359.4,167.0 359.9,167.4 360.4,167.8 360.9,168.2 361.4,168.6 361.9,169.0 362.4,169.4 362.9,169.8 363.4,170.2 363.9,170.6 364.4,171.0 364.9,171.4 365.4,171.8 365.9,172.2 366.4,172.6 366.9,173.0 367.4,173.4 367.9,173.8 368.4,174.2 368.9,174.6 369.4,175.0 369.9,175.4 370.4,175.8 370.9,176.2 371.4,176.6 371.9,177.0 372.4,177.5 372.9,177.9 373.4,178.3 373.9,178.7 374.4,179.1 374.9,179.5 375.4,180.0 375.9,180.4 375.9,183.8 375.4,183.8 374.9,183.8 374.4,183.8 373.9,183.8 373.4,183.8 372.9,183.8 372.4,183.7 371.9,183.3 371.4,182.9 370.9,182.4 370.4,182.0 369.9,181.6 369.4,181.2 368.9,180.8 368.4,180.4 367.9,180.0 367.4,179.5 366.9,179.1 366.4,178.7 365.9,178.3 365.4,177.9 364.9,177.5 364.4,177.1 363.9,176.7 363.4,176.3 362.9,175.9 362.4,175.5 361.9,175.1 361.4,174.7 360.9,174.3 360.4,173.9 359.9,173.5 359.4,173.1 358.9,172.7 358.4,172.3 357.9,171.9 357.4,171.5 356.9,171.1 356.4,170.7 355.9,170.3 355.4,169.9Z M382.9,189.4 383.4,189.4 383.9,189.4 384.4,189.4 384.9,189.4 385.4,189.4 385.9,189.4 386.4,189.5 386.9,189.9 387.4,190.4 387.9,190.8 388.4,191.3 388.9,191.7 389.4,192.2 389.9,192.6 390.4,193.1 390.9,193.5 391.4,194.0 391.9,194.4 392.4,194.9 392.9,195.3 393.4,195.8 393.9,196.2 394.4,196.7 394.9,197.1 395.4,197.6 395.9,198.0 396.4,198.5 396.9,199.0 397.4,199.4 397.9,199.9 398.4,200.3 398.9,200.8 399.4,201.3 399.9,201.7 400.4,202.2 400.9,202.7 401.4,203.1 401.9,203.6 402.4,204.1 402.9,204.5 403.4,205.0 403.4,208.4 402.9,208.4 402.4,208.4 401.9,208.4 401.4,208.4 400.9,208.4 400.4,208.4 399.9,208.3 399.4,207.9 398.9,207.4 398.4,206.9 397.9,206.4 397.4,206.0 396.9,205.5 396.4,205.0 395.9,204.6 395.4,204.1 394.9,203.7 394.4,203.2 393.9,202.7 393.4,202.3 392.9,201.8 392.4,201.4 391.9,200.9 391.4,200.4 390.9,200.0 390.4,199.5 389.9,199.1 389.4,198.6 388.9,198.2 388.4,197.7 387.9,197.3 387.4,196.8 386.9,196.4 386.4,195.9 385.9,195.5 385.4,195.0 384.9,194.6 384.4,194.1 383.9,193.7 383.4,193.3 382.9,192.8Z M410.5,215.1 411.0,215.1 411.5,215.1 412.0,215.1 412.5,215.1 413.0,215.1 413.5,215.1 414.0,215.2 414.4,215.7 414.9,216.1 415.4,216.6 415.9,217.1 416.4,217.6 416.9,218.1 417.4,218.6 417.9,219.1 418.4,219.6 418.9,220.1 419.4,220.6 419.9,221.1 420.4,221.6 420.9,222.0 421.3,222.5 421.8,223.0 422.3,223.5 422.8,224.0 423.3,224.5 423.8,225.0 424.3,225.5 424.8,226.1 425.3,226.6 425.8,227.1 426.3,227.6 426.8,228.1 427.3,228.6 427.8,229.1 428.2,229.6 428.7,230.1 429.2,230.6 429.7,231.1 430.2,231.7 430.7,232.2 430.7,235.6 430.2,235.6 429.7,235.6 429.2,235.6 428.7,235.6 428.2,235.6 427.8,235.6 427.3,235.5 426.8,235.0 426.3,234.5 425.8,234.0 425.3,233.5 424.8,233.0 424.3,232.4 423.8,231.9 423.3,231.4 422.8,230.9 422.3,230.4 421.8,229.9 421.3,229.4 420.9,228.9 420.4,228.4 419.9,227.9 419.4,227.4 418.9,226.9 418.4,226.4 417.9,225.9 417.4,225.4 416.9,224.9 416.4,224.4 415.9,223.9 415.4,223.4 414.9,222.9 414.4,222.4 414.0,221.9 413.5,221.4 413.0,221.0 412.5,220.5 412.0,220.0 411.5,219.5 411.0,219.0 410.5,218.5Z M437.2,242.7 437.7,242.7 438.2,242.7 438.7,242.7 439.1,242.7 439.6,242.7 440.1,242.7 440.6,242.7 441.1,243.3 441.6,243.8 442.1,244.3 442.6,244.9 443.1,245.4 443.6,246.0 444.1,246.5 444.6,247.0 445.1,247.6 445.6,248.1 446.1,248.7 446.6,249.2 447.1,249.8 447.6,250.3 448.1,250.9 448.5,251.4 449.0,251.9 449.5,252.5 450.0,253.1 450.5,253.6 451.0,254.2 451.5,254.7 452.0,255.3 452.5,255.8 453.0,256.4 453.5,256.9 454.0,257.5 454.5,258.1 455.0,258.6 455.5,259.2 456.0,259.7 456.0,263.1 455.5,263.1 455.0,263.1 454.5,263.1 454.0,263.1 453.5,263.1 453.0,263.1 452.5,263.1 452.0,262.5 451.5,261.9 451.0,261.4 450.5,260.8 450.0,260.3 449.5,259.7 449.0,259.2 448.5,258.6 448.1,258.0 447.6,257.5 447.1,256.9 446.6,256.4 446.1,255.8 445.6,255.3 445.1,254.7 444.6,254.2 444.1,253.6 443.6,253.1 443.1,252.5 442.6,252.0 442.1,251.4 441.6,250.9 441.1,250.4 440.6,249.8 440.1,249.3 439.6,248.7 439.1,248.2 438.7,247.7 438.2,247.1 437.7,246.6 437.2,246.1Z M461.6,270.2 462.1,270.2 462.6,270.2 463.1,270.2 463.6,270.2 464.1,270.2 464.6,270.2 465.1,270.3 465.6,270.8 466.1,271.4 466.6,272.0 467.1,272.6 467.5,273.1 468.0,273.7 468.5,274.3 469.0,274.9 469.5,275.5 470.0,276.0 470.5,276.6 471.0,277.2 471.5,277.8 472.0,278.4 472.5,279.0 472.9,279.6 473.4,280.1 473.9,280.7 474.4,281.3 474.9,281.9 475.4,282.5 475.9,283.1 476.4,283.7 476.9,284.3 477.4,284.9 477.9,285.5 478.3,286.1 478.8,286.7 479.3,287.3 479.3,290.7 478.8,290.7 478.3,290.7 477.9,290.7 477.4,290.7 476.9,290.7 476.4,290.7 475.9,290.6 475.4,290.0 474.9,289.4 474.4,288.8 473.9,288.2 473.4,287.6 472.9,287.1 472.5,286.5 472.0,285.9 471.5,285.3 471.0,284.7 470.5,284.1 470.0,283.5 469.5,282.9 469.0,282.3 468.5,281.7 468.0,281.2 467.5,280.6 467.1,280.0 466.6,279.4 466.1,278.8 465.6,278.2 465.1,277.7 464.6,277.1 464.1,276.5 463.6,275.9 463.1,275.3 462.6,274.8 462.1,274.2 461.6,273.6Z M484.4,297.8 484.9,297.8 485.4,297.8 485.9,297.8 486.4,297.8 486.9,297.8 487.4,297.8 487.9,297.9 488.4,298.5 488.9,299.1 489.4,299.7 489.9,300.3 490.4,301.0 490.9,301.6 491.3,302.2 491.8,302.8 492.3,303.5 492.8,304.1 493.3,304.7 493.8,305.3 494.3,306.0 494.8,306.6 495.3,307.2 495.8,307.9 496.3,308.5 496.8,309.1 497.3,309.8 497.8,310.4 498.3,311.0 498.8,311.7 499.3,312.3 499.7,312.9 500.2,313.6 500.7,314.2 501.2,314.9 501.2,318.3 500.7,318.3 500.2,318.3 499.7,318.3 499.3,318.3 498.8,318.3 498.3,318.3 497.8,318.2 497.3,317.5 496.8,316.9 496.3,316.3 495.8,315.6 495.3,315.0 494.8,314.4 494.3,313.7 493.8,313.1 493.3,312.4 492.8,311.8 492.3,311.2 491.8,310.5 491.3,309.9 490.9,309.3 490.4,308.7 489.9,308.0 489.4,307.4 488.9,306.8 488.4,306.2 487.9,305.5 487.4,304.9 486.9,304.3 486.4,303.7 485.9,303.0 485.4,302.4 484.9,301.8 484.4,301.2Z" fill="#000"/>
<path d="M135.91,71.30 V116.40 M130.11,71.30 h11.60 M130.11,116.40 h11.60 M135.91,94.00 V99.60 M130.11,94.00 h11.60 M130.11,99.60 h11.60 M164.41,67.70 V94.60 M158.61,67.70 h11.60 M158.61,94.60 h11.60 M164.41,73.60 V109.20 M158.61,73.60 h11.60 M158.61,109.20 h11.60 M192.92,76.00 V94.00 M187.12,76.00 h11.60 M187.12,94.00 h11.60 M192.92,77.00 V107.40 M187.12,77.00 h11.60 M187.12,107.40 h11.60 M221.42,72.70 V117.70 M215.62,72.70 h11.60 M215.62,117.70 h11.60 M249.93,98.00 V115.30 M244.13,98.00 h11.60 M244.13,115.30 h11.60 M278.43,101.90 V117.60 M272.63,101.90 h11.60 M272.63,117.60 h11.60 M306.94,108.70 V128.40 M301.14,108.70 h11.60 M301.14,128.40 h11.60 M306.94,128.40 V144.20 M301.14,128.40 h11.60 M301.14,144.20 h11.60 M335.44,135.10 V162.20 M329.64,135.10 h11.60 M329.64,162.20 h11.60 M335.44,144.80 V161.60 M329.64,144.80 h11.60 M329.64,161.60 h11.60 M363.95,168.40 V181.80 M358.15,168.40 h11.60 M358.15,181.80 h11.60 M363.95,165.60 V188.00 M358.15,165.60 h11.60 M358.15,188.00 h11.60" stroke="#000" stroke-width="1.15" fill="none"/>
<g fill="#000"><rect x="130.71" y="94.4" width="10.4" height="5.4"/><rect x="159.31" y="85.50" width="10.2" height="10.2" rx="0.8"/><rect x="187.82" y="85.90" width="10.2" height="10.2" rx="0.8"/><rect x="216.32" y="88.90" width="10.2" height="10.2" rx="0.8"/><rect x="244.83" y="95.70" width="10.2" height="10.2" rx="0.8"/><rect x="330.34" y="147.50" width="10.2" height="10.2" rx="0.8"/><rect x="358.85" y="171.30" width="10.2" height="10.2" rx="0.8"/><circle cx="135.91" cy="94.30" r="5.3"/><circle cx="164.41" cy="81.10" r="5.3"/><circle cx="192.92" cy="85.80" r="5.3"/><circle cx="221.42" cy="92.60" r="5.3"/><circle cx="249.93" cy="106.20" r="5.3"/><circle cx="278.43" cy="111.30" r="5.3"/><circle cx="306.94" cy="122.30" r="5.3"/><circle cx="335.44" cy="149.60" r="5.3"/><circle cx="363.95" cy="174.20" r="5.3"/><circle cx="278.43" cy="121.80" r="5.3"/><circle cx="306.94" cy="135.00" r="5.3"/><circle cx="489.37" cy="320.44" r="4.8"/><circle cx="503.62" cy="320.44" r="4.8"/></g>
<g font-family="'Liberation Serif', 'Times New Roman', serif" font-size="30" fill="#000">
<text x="75.6" y="63.3" text-anchor="end">12</text>
<text x="72.9" y="151.3" text-anchor="end">8</text>
<text x="73.0" y="240.1" text-anchor="end">4</text>
<text x="74.3" y="330.9" text-anchor="end">0</text>
<text x="145.4" y="403.2" text-anchor="middle">280</text>
<text x="259.9" y="403.2" text-anchor="middle">300</text>
<text x="374.0" y="403.2" text-anchor="middle">320</text>
<text x="488.0" y="403.2" text-anchor="middle">340</text>
<text x="233.2" y="438.9" letter-spacing="0.07">Temperature (K)</text>
<text transform="translate(26.6,277.6) rotate(-90)">ΔG°<tspan font-size="20.8" dy="7.6">unf</tspan><tspan dy="-7.6" dx="-1.6"> (kcal/mol)</tspan></text>
</g>
</svg>
</body></html>
